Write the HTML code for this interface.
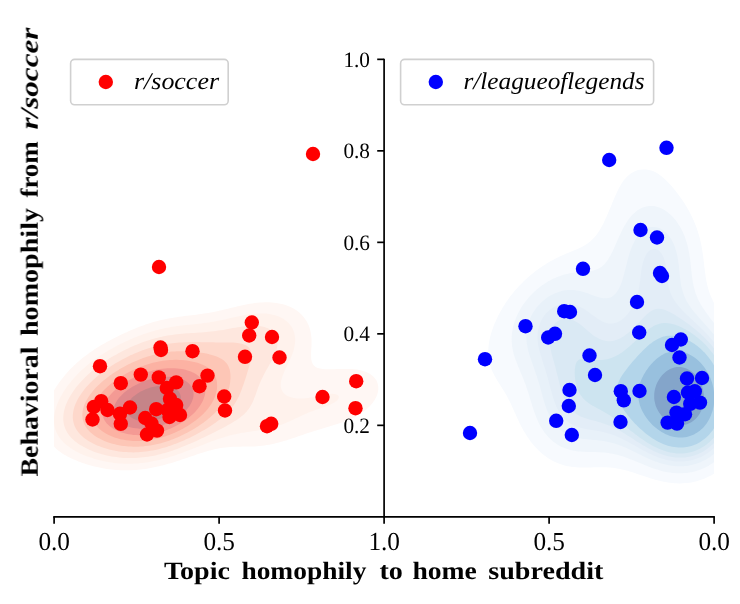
<!DOCTYPE html><html><head><meta charset="utf-8"><title>chart</title><style>html,body{margin:0;padding:0;background:#fff}svg{display:block}</style></head><body><svg width="740" height="604" viewBox="0 0 740 604"><rect width="740" height="604" fill="#fff"/><defs><clipPath id="cl"><rect x="54" y="40" width="330" height="477"/></clipPath><clipPath id="cr"><rect x="384" y="40" width="330" height="477"/></clipPath></defs>
<g clip-path="url(#cl)" fill-rule="evenodd"><path fill="#fff7f4" d="M249.8 303.8L252.3 303.4L254.7 303.1L257.1 302.8L259.5 302.6L262.0 302.4L264.4 302.3L266.8 302.3L269.2 302.3L271.7 302.5L274.1 302.7L276.5 303.0L278.9 303.4L281.4 303.9L282.0 304.1L283.8 304.6L286.2 305.3L288.6 306.2L288.7 306.3L291.1 307.3L293.3 308.5L293.5 308.6L295.9 310.1L296.8 310.6L298.3 311.8L299.6 312.8L300.8 313.9L301.9 315.0L303.2 316.5L303.8 317.2L305.4 319.4L305.6 319.7L306.8 321.6L307.9 323.8L308.0 324.1L308.9 325.9L309.6 328.1L310.2 330.3L310.5 331.5L310.7 332.5L311.1 334.7L311.3 336.9L311.5 339.1L311.5 341.2L311.5 343.4L311.5 345.6L311.4 347.8L311.2 350.0L311.1 352.2L311.1 354.4L311.1 356.5L311.2 358.7L311.6 360.9L312.3 363.1L312.9 364.3L313.7 365.3L315.3 366.7L316.6 367.5L317.7 368.0L320.2 368.6L322.6 369.0L325.0 369.2L327.4 369.3L329.9 369.3L332.3 369.3L334.7 369.2L337.2 369.1L339.6 369.0L342.0 369.0L344.4 368.9L346.9 368.9L349.3 369.0L351.7 369.1L354.1 369.3L356.6 369.5L357.2 369.6L359.0 369.9L361.4 370.5L363.8 371.2L365.8 371.8L366.3 372.0L368.7 373.2L370.1 374.0L371.1 374.7L373.0 376.2L373.5 376.7L375.0 378.4L376.0 379.7L376.5 380.6L377.4 382.8L378.0 384.9L378.3 387.1L378.3 389.3L378.0 391.5L377.5 393.7L376.7 395.9L376.0 397.5L375.7 398.1L374.5 400.2L373.5 401.6L373.0 402.4L371.2 404.6L371.1 404.8L369.2 406.8L368.7 407.3L366.9 409.0L366.3 409.5L364.2 411.2L363.8 411.4L361.4 413.1L361.1 413.4L359.0 414.7L357.5 415.5L356.6 416.1L354.1 417.4L353.4 417.7L351.7 418.5L349.3 419.6L348.6 419.9L346.9 420.6L344.4 421.6L343.0 422.1L342.0 422.5L339.6 423.3L337.2 424.1L336.5 424.3L334.7 424.8L332.3 425.6L329.9 426.3L329.4 426.5L327.4 427.0L325.0 427.8L322.6 428.5L322.0 428.7L320.2 429.2L317.7 429.9L315.3 430.7L314.8 430.8L312.9 431.4L310.5 432.2L308.0 433.0L308.0 433.0L305.6 433.8L303.2 434.7L301.6 435.2L300.8 435.5L298.3 436.3L295.9 437.2L295.3 437.4L293.5 438.0L291.1 438.8L288.7 439.6L288.6 439.6L286.2 440.4L283.8 441.1L281.6 441.8L281.4 441.8L278.9 442.5L276.5 443.1L274.1 443.7L272.9 444.0L271.7 444.2L269.2 444.7L266.8 445.1L264.4 445.5L262.0 445.8L259.5 446.1L258.5 446.1L257.1 446.3L254.7 446.4L252.3 446.5L249.8 446.6L247.4 446.6L245.0 446.6L242.6 446.6L240.1 446.7L237.7 446.7L235.3 446.7L232.9 446.8L230.4 447.0L228.0 447.2L225.6 447.4L223.2 447.7L220.7 448.1L219.3 448.3L218.3 448.5L215.9 449.0L213.5 449.6L211.0 450.2L209.7 450.5L208.6 450.8L206.2 451.5L203.8 452.2L202.3 452.7L201.3 453.0L198.9 453.8L196.5 454.6L195.6 454.9L194.1 455.4L191.6 456.3L189.2 457.1L189.2 457.1L186.8 457.9L184.4 458.7L182.8 459.3L181.9 459.5L179.5 460.4L177.1 461.1L176.1 461.4L174.7 461.9L172.2 462.7L169.8 463.4L168.9 463.6L167.4 464.1L165.0 464.8L162.5 465.4L160.7 465.8L160.1 466.0L157.7 466.6L155.3 467.1L152.8 467.6L150.6 468.0L150.4 468.0L148.0 468.5L145.6 468.9L143.1 469.2L140.7 469.5L138.3 469.7L135.9 469.9L133.4 470.1L131.5 470.2L131.0 470.2L128.6 470.3L126.2 470.3L123.7 470.3L121.3 470.2L119.8 470.2L118.9 470.1L116.5 470.0L114.0 469.8L111.6 469.6L109.2 469.3L106.7 468.9L104.3 468.6L101.9 468.1L101.4 468.0L99.5 467.6L97.0 467.1L94.6 466.6L92.2 465.9L91.8 465.8L89.8 465.3L87.3 464.6L84.9 463.8L84.5 463.6L82.5 463.0L80.1 462.1L78.4 461.4L77.6 461.1L75.2 460.1L73.2 459.3L72.8 459.1L70.4 457.9L68.7 457.1L67.9 456.7L65.5 455.3L64.8 454.9L63.1 453.9L61.3 452.7L60.7 452.2L58.3 450.5L58.2 450.4L55.8 448.4L55.7 448.3L53.5 446.1L53.4 446.1L51.5 444.0L51.0 443.3L49.8 441.8L48.5 439.9L48.3 439.6L47.1 437.4L46.1 435.3L46.1 435.2L45.2 433.0L44.6 430.8L44.1 428.7L43.8 426.5L43.7 425.6L43.6 424.3L43.5 422.1L43.6 419.9L43.7 418.6L43.8 417.7L44.0 415.5L44.4 413.4L44.9 411.2L45.5 409.0L46.1 407.3L46.3 406.8L47.0 404.6L47.9 402.4L48.5 401.0L48.8 400.2L49.8 398.1L51.0 395.9L51.0 395.9L52.1 393.7L53.4 391.5L53.4 391.5L54.7 389.3L55.8 387.5L56.1 387.1L57.5 384.9L58.2 383.9L59.0 382.8L60.7 380.6L60.7 380.6L62.3 378.4L63.1 377.4L64.1 376.2L65.5 374.5L65.9 374.0L67.9 371.8L67.9 371.8L69.9 369.6L70.4 369.1L72.0 367.5L72.8 366.7L74.2 365.3L75.2 364.4L76.6 363.1L77.6 362.2L79.1 360.9L80.1 360.1L81.7 358.7L82.5 358.1L84.5 356.5L84.9 356.2L87.3 354.4L87.4 354.4L89.8 352.6L90.4 352.2L92.2 350.9L93.6 350.0L94.6 349.3L97.0 347.8L97.0 347.8L99.5 346.3L100.6 345.6L101.9 344.8L104.3 343.4L104.4 343.4L106.7 342.1L108.3 341.2L109.2 340.7L111.6 339.4L112.4 339.1L114.0 338.2L116.5 337.0L116.7 336.9L118.9 335.8L121.1 334.7L121.3 334.6L123.7 333.4L125.9 332.5L126.2 332.4L128.6 331.3L130.8 330.3L131.0 330.2L133.4 329.2L135.9 328.2L136.1 328.1L138.3 327.2L140.7 326.3L141.8 325.9L143.1 325.4L145.6 324.6L148.0 323.8L148.1 323.8L150.4 323.0L152.8 322.3L155.3 321.6L155.4 321.6L157.7 320.9L160.1 320.3L162.5 319.8L164.4 319.4L165.0 319.2L167.4 318.7L169.8 318.3L172.2 317.9L174.7 317.5L176.6 317.2L177.1 317.1L179.5 316.8L181.9 316.4L184.4 316.1L186.8 315.8L189.2 315.5L191.6 315.3L193.7 315.0L194.1 315.0L196.5 314.7L198.9 314.3L201.3 314.0L203.8 313.6L206.2 313.3L208.6 312.9L208.9 312.8L211.0 312.4L213.5 312.0L215.9 311.5L218.3 310.9L219.7 310.6L220.7 310.4L223.2 309.8L225.6 309.3L228.0 308.7L228.9 308.5L230.4 308.1L232.9 307.5L235.3 306.9L237.7 306.3L238.0 306.3L240.1 305.8L242.6 305.2L245.0 304.7L247.4 304.3L248.4 304.1Z"/><path fill="#fff2ec" d="M245.0 315.0L247.4 314.6L249.8 314.2L252.3 313.9L254.7 313.7L257.1 313.5L259.5 313.4L262.0 313.4L264.4 313.5L266.8 313.6L269.2 313.9L271.7 314.4L274.1 314.9L274.4 315.0L276.5 315.7L278.9 316.6L280.3 317.2L281.4 317.7L283.8 319.1L284.2 319.4L286.2 320.9L287.0 321.6L288.6 323.1L289.2 323.8L291.0 325.9L291.1 326.1L292.3 328.1L293.3 330.3L293.5 330.8L294.1 332.5L294.6 334.7L295.0 336.9L295.1 339.1L295.1 341.2L295.0 343.4L294.7 345.6L294.2 347.8L293.7 350.0L293.5 350.5L293.0 352.2L292.2 354.4L291.4 356.5L291.1 357.2L290.4 358.7L289.4 360.9L288.6 362.6L288.4 363.1L287.3 365.3L286.3 367.5L286.2 367.6L285.2 369.6L284.2 371.8L283.8 372.9L283.3 374.0L282.5 376.2L281.8 378.4L281.4 379.9L281.2 380.6L280.9 382.8L280.7 384.9L280.9 387.1L281.4 389.1L281.4 389.3L282.5 391.5L283.8 393.2L284.3 393.7L286.2 395.2L287.5 395.9L288.6 396.4L291.1 397.3L293.5 397.9L294.9 398.1L295.9 398.2L298.3 398.4L300.8 398.5L303.2 398.4L305.6 398.3L307.2 398.1L308.0 398.0L310.5 397.6L312.9 397.2L315.3 396.7L317.7 396.1L318.8 395.9L320.2 395.6L322.6 395.1L325.0 394.6L327.4 394.2L329.9 393.9L332.3 393.7L334.7 393.9L337.2 394.7L338.7 395.9L338.8 398.1L337.4 400.2L337.2 400.4L334.7 402.3L334.6 402.4L332.3 403.6L330.4 404.6L329.9 404.8L327.4 405.8L325.0 406.8L324.9 406.8L322.6 407.5L320.2 408.4L318.5 409.0L317.7 409.2L315.3 410.0L312.9 410.9L312.3 411.2L310.5 411.8L308.0 412.8L306.9 413.4L305.6 413.8L303.2 414.9L301.9 415.5L300.8 416.0L298.3 417.2L297.3 417.7L295.9 418.3L293.5 419.5L292.6 419.9L291.1 420.6L288.6 421.7L287.8 422.1L286.2 422.8L283.8 423.8L282.6 424.3L281.4 424.7L278.9 425.6L276.5 426.5L276.5 426.5L274.1 427.2L271.7 427.9L269.2 428.5L268.6 428.7L266.8 429.0L264.4 429.5L262.0 429.9L259.5 430.3L257.1 430.7L256.1 430.8L254.7 431.0L252.3 431.3L249.8 431.7L247.4 432.0L245.0 432.4L242.6 432.8L241.0 433.0L240.1 433.2L237.7 433.7L235.3 434.2L232.9 434.7L231.0 435.2L230.4 435.3L228.0 436.0L225.6 436.7L223.3 437.4L223.2 437.4L220.7 438.2L218.3 439.0L216.7 439.6L215.9 439.9L213.5 440.8L211.0 441.6L210.7 441.8L208.6 442.6L206.2 443.5L205.0 444.0L203.8 444.5L201.3 445.4L199.5 446.1L198.9 446.4L196.5 447.3L194.1 448.3L193.9 448.3L191.6 449.3L189.2 450.2L188.3 450.5L186.8 451.1L184.4 452.0L182.5 452.7L181.9 452.9L179.5 453.8L177.1 454.6L176.4 454.9L174.7 455.5L172.2 456.3L169.8 457.0L169.6 457.1L167.4 457.8L165.0 458.5L162.5 459.1L161.9 459.3L160.1 459.7L157.7 460.3L155.3 460.8L152.8 461.3L152.1 461.4L150.4 461.8L148.0 462.2L145.6 462.6L143.1 462.9L140.7 463.1L138.3 463.4L135.9 463.5L134.0 463.6L133.4 463.7L131.0 463.7L128.6 463.8L126.2 463.8L123.7 463.7L122.5 463.6L121.3 463.6L118.9 463.4L116.5 463.2L114.0 462.9L111.6 462.6L109.2 462.2L106.7 461.8L104.9 461.4L104.3 461.3L101.9 460.8L99.5 460.2L97.0 459.6L95.9 459.3L94.6 458.9L92.2 458.1L89.8 457.3L89.1 457.1L87.3 456.5L84.9 455.5L83.4 454.9L82.5 454.5L80.1 453.4L78.7 452.7L77.6 452.2L75.2 450.9L74.6 450.5L72.8 449.5L71.0 448.3L70.4 447.9L67.9 446.1L67.9 446.1L65.5 444.2L65.3 444.0L63.1 441.9L63.0 441.8L61.0 439.6L60.7 439.1L59.4 437.4L58.2 435.6L58.0 435.2L56.8 433.0L55.9 430.8L55.8 430.6L55.1 428.7L54.6 426.5L54.2 424.3L54.0 422.1L53.9 419.9L54.0 417.7L54.2 415.5L54.6 413.4L55.0 411.2L55.6 409.0L55.8 408.3L56.3 406.8L57.1 404.6L58.0 402.4L58.2 401.8L58.9 400.2L60.0 398.1L60.7 396.8L61.2 395.9L62.4 393.7L63.1 392.6L63.8 391.5L65.2 389.3L65.5 388.9L66.7 387.1L67.9 385.5L68.3 384.9L70.0 382.8L70.4 382.4L71.8 380.6L72.8 379.4L73.7 378.4L75.2 376.7L75.7 376.2L77.6 374.1L77.8 374.0L79.9 371.8L80.1 371.7L82.2 369.6L82.5 369.4L84.7 367.5L84.9 367.2L87.2 365.3L87.3 365.2L89.8 363.2L89.9 363.1L92.2 361.3L92.7 360.9L94.6 359.5L95.7 358.7L97.0 357.8L98.9 356.5L99.5 356.1L101.9 354.6L102.2 354.4L104.3 353.0L105.7 352.2L106.7 351.5L109.2 350.1L109.4 350.0L111.6 348.7L113.3 347.8L114.0 347.4L116.5 346.1L117.4 345.6L118.9 344.8L121.3 343.6L121.7 343.4L123.7 342.4L126.2 341.3L126.3 341.2L128.6 340.2L131.0 339.1L131.2 339.1L133.4 338.1L135.9 337.1L136.4 336.9L138.3 336.1L140.7 335.2L142.1 334.7L143.1 334.3L145.6 333.5L148.0 332.7L148.5 332.5L150.4 331.9L152.8 331.2L155.3 330.5L156.0 330.3L157.7 329.9L160.1 329.2L162.5 328.7L165.0 328.2L165.3 328.1L167.4 327.7L169.8 327.3L172.2 326.8L174.7 326.5L177.1 326.1L178.7 325.9L179.5 325.8L181.9 325.5L184.4 325.2L186.8 325.0L189.2 324.7L191.6 324.5L194.1 324.2L196.5 324.0L198.7 323.8L198.9 323.7L201.3 323.4L203.8 323.1L206.2 322.8L208.6 322.5L211.0 322.1L213.5 321.7L214.2 321.6L215.9 321.3L218.3 320.8L220.7 320.3L223.2 319.8L225.0 319.4L225.6 319.2L228.0 318.7L230.4 318.1L232.9 317.6L234.5 317.2L235.3 317.0L237.7 316.5L240.1 316.0L242.6 315.5L245.0 315.0Z"/><path fill="#fee7de" d="M247.4 325.9L249.8 325.8L252.3 325.6L254.7 325.6L257.1 325.8L259.0 325.9L259.5 326.0L262.0 326.4L264.4 327.0L266.8 327.9L267.4 328.1L269.2 329.1L271.2 330.3L271.7 330.7L273.6 332.5L274.1 333.0L275.3 334.7L276.4 336.9L276.5 337.2L277.1 339.1L277.5 341.2L277.5 343.4L277.4 345.6L277.0 347.8L276.5 349.8L276.5 350.0L275.7 352.2L274.9 354.4L274.1 356.0L273.9 356.5L272.8 358.7L271.7 360.8L271.6 360.9L270.4 363.1L269.2 365.1L269.1 365.3L267.9 367.5L266.8 369.3L266.6 369.6L265.4 371.8L264.4 373.7L264.2 374.0L263.1 376.2L262.0 378.4L262.0 378.5L261.0 380.6L260.1 382.8L259.5 384.1L259.2 384.9L258.3 387.1L257.5 389.3L257.1 390.4L256.7 391.5L256.0 393.7L255.2 395.9L254.7 397.1L254.3 398.1L253.5 400.2L252.5 402.4L252.3 402.9L251.4 404.6L250.2 406.8L249.8 407.3L248.7 409.0L247.4 410.6L247.0 411.2L245.0 413.3L244.9 413.4L242.6 415.5L242.5 415.5L240.1 417.4L239.8 417.7L237.7 419.2L236.7 419.9L235.3 420.8L233.2 422.1L232.9 422.3L230.4 423.7L229.5 424.3L228.0 425.1L225.6 426.4L225.5 426.5L223.2 427.7L221.4 428.7L220.7 429.0L218.3 430.3L217.2 430.8L215.9 431.5L213.5 432.7L212.8 433.0L211.0 433.9L208.6 435.1L208.4 435.2L206.2 436.3L203.9 437.4L203.8 437.5L201.3 438.6L199.3 439.6L198.9 439.7L196.5 440.9L194.5 441.8L194.1 442.0L191.6 443.1L189.5 444.0L189.2 444.1L186.8 445.1L184.4 446.1L184.3 446.1L181.9 447.1L179.5 448.0L178.8 448.3L177.1 449.0L174.7 449.8L172.7 450.5L172.2 450.7L169.8 451.5L167.4 452.2L165.7 452.7L165.0 452.9L162.5 453.6L160.1 454.2L157.7 454.8L157.4 454.9L155.3 455.4L152.8 455.9L150.4 456.3L148.0 456.7L145.6 457.0L145.3 457.1L143.1 457.3L140.7 457.6L138.3 457.8L135.9 457.9L133.4 458.0L131.0 458.1L128.6 458.1L126.2 458.0L123.7 457.9L121.3 457.7L118.9 457.4L116.5 457.1L115.9 457.1L114.0 456.8L111.6 456.4L109.2 455.9L106.7 455.4L104.5 454.9L104.3 454.8L101.9 454.2L99.5 453.5L97.0 452.7L97.0 452.7L94.6 451.9L92.2 450.9L91.2 450.5L89.8 449.9L87.3 448.8L86.3 448.3L84.9 447.6L82.5 446.3L82.2 446.1L80.1 444.9L78.7 444.0L77.6 443.2L75.7 441.8L75.2 441.4L73.1 439.6L72.8 439.3L70.9 437.4L70.4 436.8L69.1 435.2L67.9 433.6L67.5 433.0L66.3 430.8L65.5 429.2L65.3 428.7L64.5 426.5L63.9 424.3L63.5 422.1L63.3 419.9L63.3 417.7L63.4 415.5L63.6 413.4L64.0 411.2L64.6 409.0L65.2 406.8L65.5 406.1L66.0 404.6L66.9 402.4L67.9 400.3L68.0 400.2L69.1 398.1L70.3 395.9L70.4 395.8L71.7 393.7L72.8 392.0L73.1 391.5L74.7 389.3L75.2 388.6L76.3 387.1L77.6 385.5L78.1 384.9L80.0 382.8L80.1 382.7L82.0 380.6L82.5 380.0L84.1 378.4L84.9 377.5L86.3 376.2L87.3 375.2L88.6 374.0L89.8 373.0L91.1 371.8L92.2 370.9L93.7 369.6L94.6 368.9L96.4 367.5L97.0 367.0L99.3 365.3L99.5 365.2L101.9 363.4L102.4 363.1L104.3 361.8L105.6 360.9L106.7 360.2L109.0 358.7L109.2 358.6L111.6 357.1L112.6 356.5L114.0 355.7L116.5 354.4L116.5 354.4L118.9 353.0L120.5 352.2L121.3 351.7L123.7 350.5L124.8 350.0L126.2 349.3L128.6 348.2L129.4 347.8L131.0 347.0L133.4 346.0L134.3 345.6L135.9 344.9L138.3 344.0L139.7 343.4L140.7 343.0L143.1 342.1L145.6 341.3L145.7 341.2L148.0 340.5L150.4 339.7L152.7 339.1L152.8 339.0L155.3 338.3L157.7 337.7L160.1 337.1L161.3 336.9L162.5 336.6L165.0 336.1L167.4 335.6L169.8 335.2L172.2 334.9L173.6 334.7L174.7 334.5L177.1 334.2L179.5 334.0L181.9 333.7L184.4 333.5L186.8 333.3L189.2 333.2L191.6 333.0L194.1 332.9L196.5 332.7L198.9 332.5L199.6 332.5L201.3 332.4L203.8 332.2L206.2 332.0L208.6 331.8L211.0 331.5L213.5 331.2L215.9 330.9L218.3 330.6L220.3 330.3L220.7 330.2L223.2 329.9L225.6 329.4L228.0 329.0L230.4 328.6L232.9 328.1L232.9 328.1L235.3 327.7L237.7 327.3L240.1 326.9L242.6 326.5L245.0 326.2L247.4 325.9Z"/><path fill="#fed8cb" d="M172.2 343.2L174.7 342.9L177.1 342.7L179.5 342.5L181.9 342.4L184.4 342.3L186.8 342.2L189.2 342.1L191.6 342.1L194.1 342.1L196.5 342.1L198.9 342.1L201.3 342.2L203.8 342.2L206.2 342.2L208.6 342.3L211.0 342.3L213.5 342.3L215.9 342.4L218.3 342.4L220.7 342.4L223.2 342.4L225.6 342.4L228.0 342.5L230.4 342.5L232.9 342.6L235.3 342.8L237.7 343.0L240.1 343.4L240.2 343.4L242.6 344.0L245.0 344.9L246.4 345.6L247.4 346.3L249.1 347.8L249.8 348.9L250.4 350.0L251.1 352.2L251.3 354.4L251.3 356.5L251.0 358.7L250.6 360.9L250.1 363.1L249.8 364.0L249.5 365.3L248.9 367.5L248.2 369.6L247.6 371.8L247.4 372.2L246.9 374.0L246.2 376.2L245.5 378.4L245.0 379.9L244.8 380.6L244.1 382.8L243.3 384.9L242.6 387.1L242.5 387.1L241.8 389.3L240.9 391.5L240.1 393.4L240.0 393.7L239.1 395.9L238.0 398.1L237.7 398.6L236.8 400.2L235.5 402.4L235.3 402.8L234.2 404.6L232.9 406.4L232.6 406.8L230.8 409.0L230.4 409.4L228.9 411.2L228.0 412.1L226.8 413.4L225.6 414.5L224.5 415.5L223.2 416.7L222.0 417.7L220.7 418.7L219.2 419.9L218.3 420.6L216.3 422.1L215.9 422.4L213.5 424.1L213.1 424.3L211.0 425.7L209.8 426.5L208.6 427.2L206.3 428.7L206.2 428.7L203.8 430.2L202.6 430.8L201.3 431.6L198.9 432.9L198.7 433.0L196.5 434.2L194.6 435.2L194.1 435.5L191.6 436.7L190.2 437.4L189.2 437.9L186.8 439.1L185.6 439.6L184.4 440.2L181.9 441.2L180.6 441.8L179.5 442.2L177.1 443.2L175.2 444.0L174.7 444.1L172.2 445.0L169.8 445.9L169.0 446.1L167.4 446.7L165.0 447.4L162.5 448.1L161.7 448.3L160.1 448.8L157.7 449.4L155.3 449.9L152.8 450.4L152.1 450.5L150.4 450.8L148.0 451.2L145.6 451.6L143.1 451.8L140.7 452.0L138.3 452.2L135.9 452.3L133.4 452.4L131.0 452.3L128.6 452.3L126.2 452.1L123.7 452.0L121.3 451.7L118.9 451.4L116.5 451.0L114.0 450.5L113.9 450.5L111.6 450.0L109.2 449.4L106.7 448.8L105.2 448.3L104.3 448.1L101.9 447.2L99.5 446.3L98.9 446.1L97.0 445.4L94.6 444.3L94.0 444.0L92.2 443.1L89.9 441.8L89.8 441.7L87.3 440.2L86.4 439.6L84.9 438.5L83.5 437.4L82.5 436.5L81.1 435.2L80.1 434.2L79.0 433.0L77.6 431.3L77.3 430.8L75.9 428.7L75.2 427.3L74.8 426.5L74.0 424.3L73.4 422.1L73.0 419.9L72.8 417.7L72.8 417.7L72.8 415.5L72.8 415.5L73.0 413.4L73.3 411.2L73.8 409.0L74.4 406.8L75.2 404.7L75.2 404.6L76.2 402.4L77.2 400.2L77.6 399.5L78.4 398.1L79.7 395.9L80.1 395.4L81.2 393.7L82.5 391.9L82.8 391.5L84.5 389.3L84.9 388.8L86.3 387.1L87.3 385.9L88.3 384.9L89.8 383.3L90.3 382.8L92.2 380.9L92.6 380.6L94.6 378.7L94.9 378.4L97.0 376.5L97.4 376.2L99.5 374.5L100.1 374.0L101.9 372.6L102.9 371.8L104.3 370.8L105.9 369.6L106.7 369.0L109.0 367.5L109.2 367.4L111.6 365.8L112.4 365.3L114.0 364.2L116.0 363.1L116.5 362.8L118.9 361.4L119.7 360.9L121.3 360.0L123.7 358.7L123.8 358.7L126.2 357.5L128.1 356.5L128.6 356.3L131.0 355.1L132.8 354.4L133.4 354.1L135.9 353.0L137.9 352.2L138.3 352.0L140.7 351.0L143.1 350.1L143.6 350.0L145.6 349.3L148.0 348.5L150.2 347.8L150.4 347.7L152.8 347.0L155.3 346.4L157.7 345.8L158.3 345.6L160.1 345.2L162.5 344.7L165.0 344.2L167.4 343.8L169.8 343.5L170.4 343.4Z"/><path fill="#fdc6b6" d="M167.4 352.1L169.8 351.8L172.2 351.6L174.7 351.4L177.1 351.3L179.5 351.2L181.9 351.2L184.4 351.2L186.8 351.3L189.2 351.4L191.6 351.6L194.1 351.8L196.5 352.1L197.4 352.2L198.9 352.4L201.3 352.7L203.8 353.1L206.2 353.6L208.6 354.1L209.7 354.4L211.0 354.7L213.5 355.4L215.9 356.2L216.7 356.5L218.3 357.2L220.7 358.4L221.3 358.7L223.2 360.0L224.3 360.9L225.6 362.2L226.4 363.1L227.9 365.3L228.0 365.5L228.9 367.5L229.7 369.6L230.1 371.8L230.4 374.0L230.4 375.0L230.5 376.2L230.5 378.4L230.4 378.9L230.3 380.6L230.1 382.8L229.7 384.9L229.3 387.1L228.7 389.3L228.1 391.5L228.0 391.6L227.3 393.7L226.4 395.9L225.6 397.7L225.4 398.1L224.3 400.2L223.2 402.2L223.0 402.4L221.7 404.6L220.7 405.9L220.1 406.8L218.4 409.0L218.3 409.0L216.5 411.2L215.9 411.8L214.4 413.4L213.5 414.3L212.1 415.5L211.0 416.5L209.7 417.7L208.6 418.6L207.0 419.9L206.2 420.6L204.2 422.1L203.8 422.4L201.3 424.1L201.1 424.3L198.9 425.8L197.9 426.5L196.5 427.3L194.3 428.7L194.1 428.8L191.6 430.3L190.6 430.8L189.2 431.6L186.8 432.9L186.5 433.0L184.4 434.1L182.1 435.2L181.9 435.3L179.5 436.4L177.3 437.4L177.1 437.5L174.7 438.5L172.2 439.5L171.9 439.6L169.8 440.4L167.4 441.2L165.6 441.8L165.0 442.0L162.5 442.7L160.1 443.4L157.7 444.0L157.7 444.0L155.3 444.5L152.8 445.0L150.4 445.4L148.0 445.8L145.6 446.1L145.3 446.1L143.1 446.4L140.7 446.6L138.3 446.7L135.9 446.7L133.4 446.7L131.0 446.6L128.6 446.5L126.2 446.3L124.9 446.1L123.7 446.0L121.3 445.7L118.9 445.2L116.5 444.7L114.0 444.1L113.4 444.0L111.6 443.5L109.2 442.7L106.7 441.9L106.5 441.8L104.3 440.9L101.9 439.8L101.4 439.6L99.5 438.6L97.3 437.4L97.0 437.2L94.6 435.7L94.0 435.2L92.2 433.8L91.2 433.0L89.8 431.7L88.9 430.8L87.3 429.0L87.1 428.7L85.6 426.5L84.9 425.3L84.4 424.3L83.5 422.1L82.9 419.9L82.5 417.7L82.5 417.7L82.3 415.5L82.4 413.4L82.5 412.5L82.6 411.2L83.1 409.0L83.7 406.8L84.5 404.6L84.9 403.6L85.4 402.4L86.5 400.2L87.3 398.9L87.8 398.1L89.2 395.9L89.8 395.1L90.8 393.7L92.2 391.9L92.5 391.5L94.4 389.3L94.6 389.1L96.4 387.1L97.0 386.5L98.6 384.9L99.5 384.2L101.0 382.8L101.9 382.0L103.5 380.6L104.3 379.9L106.2 378.4L106.7 378.0L109.1 376.2L109.2 376.1L111.6 374.4L112.1 374.0L114.0 372.7L115.4 371.8L116.5 371.2L118.9 369.7L118.9 369.6L121.3 368.2L122.7 367.5L123.7 366.9L126.2 365.6L126.7 365.3L128.6 364.3L131.0 363.2L131.1 363.1L133.4 362.0L135.9 361.0L136.0 360.9L138.3 359.9L140.7 359.0L141.4 358.7L143.1 358.1L145.6 357.2L147.6 356.5L148.0 356.4L150.4 355.7L152.8 355.0L155.3 354.4L155.3 354.4L157.7 353.8L160.1 353.3L162.5 352.8L165.0 352.4L166.7 352.2Z"/><path fill="#fcb2a3" d="M162.5 360.8L165.0 360.5L167.4 360.2L169.8 360.0L172.2 359.9L174.7 359.8L177.1 359.8L179.5 359.9L181.9 360.0L184.4 360.3L186.8 360.5L189.2 360.9L189.2 360.9L191.6 361.4L194.1 361.9L196.5 362.5L198.3 363.1L198.9 363.3L201.3 364.2L203.8 365.3L203.8 365.3L206.2 366.6L207.6 367.5L208.6 368.2L210.4 369.6L211.0 370.3L212.5 371.8L213.5 373.1L214.1 374.0L215.2 376.2L215.9 377.9L216.1 378.4L216.7 380.6L217.0 382.8L217.1 384.9L217.1 387.1L216.9 389.3L216.5 391.5L215.9 393.7L215.9 393.9L215.3 395.9L214.4 398.1L213.5 400.1L213.4 400.2L212.2 402.4L211.0 404.4L210.9 404.6L209.4 406.8L208.6 407.8L207.7 409.0L206.2 410.7L205.8 411.2L203.8 413.3L203.8 413.4L201.5 415.5L201.3 415.7L199.0 417.7L198.9 417.8L196.5 419.8L196.3 419.9L194.1 421.6L193.4 422.1L191.6 423.3L190.2 424.3L189.2 424.9L186.8 426.4L186.7 426.5L184.4 427.8L182.9 428.7L181.9 429.2L179.5 430.4L178.7 430.8L177.1 431.6L174.7 432.7L173.9 433.0L172.2 433.8L169.8 434.7L168.5 435.2L167.4 435.6L165.0 436.5L162.5 437.2L161.9 437.4L160.1 437.9L157.7 438.5L155.3 439.1L152.8 439.6L152.8 439.6L150.4 440.0L148.0 440.4L145.6 440.6L143.1 440.9L140.7 441.0L138.3 441.1L135.9 441.1L133.4 441.0L131.0 440.8L128.6 440.6L126.2 440.3L123.7 439.8L122.4 439.6L121.3 439.4L118.9 438.8L116.5 438.1L114.4 437.4L114.0 437.3L111.6 436.3L109.2 435.3L109.1 435.2L106.7 434.0L105.0 433.0L104.3 432.6L101.9 431.0L101.7 430.8L99.5 429.0L99.1 428.7L97.1 426.5L97.0 426.5L95.4 424.3L94.6 423.0L94.1 422.1L93.2 419.9L92.6 417.7L92.2 415.5L92.2 414.8L92.1 413.4L92.2 412.4L92.3 411.2L92.6 409.0L93.2 406.8L94.0 404.6L94.6 403.2L95.0 402.4L96.1 400.2L97.0 398.8L97.5 398.1L99.0 395.9L99.5 395.3L100.8 393.7L101.9 392.4L102.7 391.5L104.3 389.8L104.8 389.3L106.7 387.4L107.1 387.1L109.2 385.3L109.5 384.9L111.6 383.3L112.2 382.8L114.0 381.4L115.2 380.6L116.5 379.7L118.3 378.4L118.9 378.0L121.3 376.5L121.7 376.2L123.7 375.0L125.4 374.0L126.2 373.6L128.6 372.3L129.5 371.8L131.0 371.1L133.4 369.9L134.0 369.6L135.9 368.8L138.3 367.8L139.0 367.5L140.7 366.8L143.1 365.9L144.8 365.3L145.6 365.0L148.0 364.2L150.4 363.5L151.9 363.1L152.8 362.8L155.3 362.2L157.7 361.7L160.1 361.2L162.1 360.9Z"/><path fill="#f49a94" d="M157.7 369.5L160.1 369.1L162.5 368.8L165.0 368.5L167.4 368.3L169.8 368.2L172.2 368.2L174.7 368.3L177.1 368.4L179.5 368.7L181.9 369.1L184.4 369.6L184.7 369.6L186.8 370.2L189.2 370.9L191.5 371.8L191.6 371.9L194.1 373.0L195.8 374.0L196.5 374.5L198.8 376.2L198.9 376.3L201.0 378.4L201.3 378.8L202.6 380.6L203.8 382.7L203.8 382.8L204.6 384.9L205.1 387.1L205.3 389.3L205.3 391.5L205.1 393.7L204.6 395.9L203.9 398.1L203.8 398.5L203.1 400.2L202.0 402.4L201.3 403.6L200.8 404.6L199.3 406.8L198.9 407.3L197.6 409.0L196.5 410.3L195.8 411.2L194.1 412.9L193.6 413.4L191.6 415.2L191.3 415.5L189.2 417.3L188.7 417.7L186.8 419.2L185.8 419.9L184.4 420.9L182.6 422.1L181.9 422.5L179.5 424.0L179.0 424.3L177.1 425.3L174.9 426.5L174.7 426.6L172.2 427.7L170.2 428.7L169.8 428.8L167.4 429.8L165.0 430.7L164.5 430.8L162.5 431.5L160.1 432.2L157.7 432.9L157.1 433.0L155.3 433.5L152.8 434.0L150.4 434.4L148.0 434.7L145.6 435.0L143.1 435.1L140.7 435.2L138.3 435.2L135.9 435.1L133.4 434.9L131.0 434.6L128.6 434.2L126.2 433.7L123.7 433.1L123.4 433.0L121.3 432.4L118.9 431.5L117.4 430.8L116.5 430.4L114.0 429.2L113.2 428.7L111.6 427.6L110.0 426.5L109.2 425.8L107.6 424.3L106.7 423.4L105.7 422.1L104.3 419.9L104.3 419.9L103.3 417.7L102.7 415.5L102.4 413.4L102.4 411.2L102.7 409.0L103.2 406.8L104.0 404.6L104.3 403.8L105.0 402.4L106.2 400.2L106.7 399.4L107.7 398.1L109.2 396.1L109.4 395.9L111.3 393.7L111.6 393.4L113.4 391.5L114.0 391.0L115.8 389.3L116.5 388.8L118.5 387.1L118.9 386.8L121.3 385.0L121.4 384.9L123.7 383.4L124.7 382.8L126.2 381.8L128.2 380.6L128.6 380.4L131.0 379.0L132.2 378.4L133.4 377.8L135.9 376.6L136.8 376.2L138.3 375.5L140.7 374.5L142.0 374.0L143.1 373.6L145.6 372.7L148.0 371.9L148.3 371.8L150.4 371.2L152.8 370.6L155.3 370.0L157.0 369.6Z"/><path fill="#df8a8d" d="M155.3 378.0L157.7 377.5L160.1 377.2L162.5 376.9L165.0 376.8L167.4 376.7L169.8 376.8L172.2 377.0L174.7 377.3L177.1 377.8L179.5 378.4L179.5 378.4L181.9 379.2L184.4 380.3L184.8 380.6L186.8 381.8L188.0 382.8L189.2 383.8L190.2 384.9L191.6 386.9L191.8 387.1L192.8 389.3L193.3 391.5L193.6 393.7L193.5 395.9L193.1 398.1L192.4 400.2L191.6 402.2L191.5 402.4L190.4 404.6L189.2 406.4L188.9 406.8L187.2 409.0L186.8 409.5L185.3 411.2L184.4 412.1L183.0 413.4L181.9 414.3L180.4 415.5L179.5 416.2L177.4 417.7L177.1 417.9L174.7 419.5L173.9 419.9L172.2 420.9L169.9 422.1L169.8 422.2L167.4 423.3L165.0 424.3L165.0 424.3L162.5 425.2L160.1 426.0L158.5 426.5L157.7 426.7L155.3 427.3L152.8 427.8L150.4 428.2L148.0 428.5L145.8 428.7L145.6 428.7L143.1 428.8L140.7 428.7L139.2 428.7L138.3 428.6L135.9 428.3L133.4 427.9L131.0 427.4L128.6 426.7L127.8 426.5L126.2 425.8L123.7 424.7L122.9 424.3L121.3 423.3L119.6 422.1L118.9 421.5L117.3 419.9L116.5 418.9L115.6 417.7L114.5 415.5L114.0 414.0L113.8 413.4L113.6 411.2L113.7 409.0L114.0 407.3L114.1 406.8L114.9 404.6L115.9 402.4L116.5 401.5L117.2 400.2L118.9 398.1L118.9 398.1L120.8 395.9L121.3 395.4L123.1 393.7L123.7 393.1L125.6 391.5L126.2 391.1L128.6 389.3L128.6 389.3L131.0 387.7L131.9 387.1L133.4 386.2L135.8 384.9L135.9 384.9L138.3 383.7L140.3 382.8L140.7 382.6L143.1 381.6L145.6 380.7L145.8 380.6L148.0 379.9L150.4 379.1L152.8 378.5L153.3 378.4Z"/><path fill="#c58488" d="M152.8 387.0L155.3 386.5L157.7 386.1L160.1 385.9L162.5 385.8L165.0 385.8L167.4 386.1L169.8 386.5L171.9 387.1L172.2 387.2L174.7 388.3L176.3 389.3L177.1 389.9L178.7 391.5L179.5 392.7L180.0 393.7L180.7 395.9L180.9 398.1L180.6 400.2L179.9 402.4L179.5 403.4L178.9 404.6L177.4 406.8L177.1 407.2L175.6 409.0L174.7 409.9L173.3 411.2L172.2 412.1L170.5 413.4L169.8 413.9L167.4 415.4L167.1 415.5L165.0 416.7L162.7 417.7L162.5 417.8L160.1 418.7L157.7 419.5L156.3 419.9L155.3 420.2L152.8 420.7L150.4 421.0L148.0 421.2L145.6 421.3L143.1 421.2L140.7 420.9L138.3 420.5L136.2 419.9L135.9 419.8L133.4 418.8L131.6 417.7L131.0 417.3L128.9 415.5L128.6 415.1L127.4 413.4L126.5 411.2L126.3 409.0L126.5 406.8L127.2 404.6L128.3 402.4L128.6 402.0L129.8 400.2L131.0 398.9L131.8 398.1L133.4 396.6L134.2 395.9L135.9 394.7L137.2 393.7L138.3 393.0L140.7 391.6L140.9 391.5L143.1 390.4L145.6 389.3L145.6 389.3L148.0 388.4L150.4 387.6L152.3 387.1Z"/></g>
<g clip-path="url(#cr)" fill-rule="evenodd"><path fill="#f7fafe" d="M636.0 170.8L638.1 170.1L640.2 169.7L642.4 169.4L644.5 169.4L646.6 169.5L648.8 169.9L650.9 170.4L653.0 171.1L654.2 171.7L655.1 172.1L657.3 173.3L658.8 174.3L659.4 174.7L661.5 176.2L662.2 176.9L663.6 178.0L665.1 179.4L665.8 180.0L667.8 182.0L667.9 182.1L670.0 184.4L670.2 184.6L672.2 186.8L672.5 187.2L674.3 189.3L674.6 189.7L676.4 192.0L676.6 192.3L678.5 194.8L678.6 194.9L680.5 197.4L680.7 197.7L682.2 200.0L682.8 200.8L683.9 202.6L684.9 204.1L685.6 205.2L687.0 207.6L687.1 207.7L688.6 210.3L689.2 211.3L690.0 212.9L691.3 215.4L691.3 215.5L692.5 218.0L693.4 220.0L693.7 220.6L694.8 223.2L695.5 225.1L695.8 225.8L696.8 228.3L697.6 230.9L697.7 231.1L698.4 233.5L699.2 236.0L699.8 238.4L699.9 238.6L700.5 241.2L701.0 243.8L701.6 246.3L701.9 248.5L702.0 248.9L702.4 251.5L702.8 254.1L703.2 256.6L703.5 259.2L703.8 261.8L704.1 264.0L704.1 264.4L704.4 266.9L704.7 269.5L705.0 272.1L705.4 274.6L705.7 277.2L706.2 279.8L706.2 279.9L706.7 282.4L707.2 284.9L707.9 287.5L708.3 289.0L708.6 290.1L709.5 292.7L710.4 295.2L710.4 295.3L711.5 297.8L712.6 300.1L712.7 300.4L714.0 303.0L714.7 304.3L715.4 305.5L716.8 308.0L716.9 308.1L718.4 310.7L718.9 311.5L720.1 313.2L721.1 314.8L721.7 315.8L723.2 318.1L723.4 318.4L725.1 321.0L725.3 321.3L726.8 323.5L727.5 324.5L728.5 326.1L729.6 327.8L730.2 328.7L731.7 331.1L731.8 331.3L733.4 333.8L733.8 334.6L734.9 336.4L736.0 338.3L736.4 339.0L737.8 341.6L738.1 342.2L739.1 344.1L740.2 346.3L740.4 346.7L741.6 349.3L742.3 350.9L742.8 351.9L743.9 354.4L744.5 356.0L744.9 357.0L745.8 359.6L746.6 361.8L746.7 362.1L747.6 364.7L748.3 367.3L748.7 368.8L749.0 369.9L749.7 372.4L750.2 375.0L750.7 377.6L750.9 378.3L751.2 380.2L751.6 382.7L751.9 385.3L752.2 387.9L752.4 390.5L752.5 393.0L752.6 395.6L752.6 398.2L752.6 400.7L752.5 403.3L752.3 405.9L752.1 408.5L751.8 411.0L751.4 413.6L751.0 416.2L750.9 416.9L750.5 418.8L749.9 421.3L749.3 423.9L748.7 425.8L748.6 426.5L747.8 429.1L746.9 431.6L746.6 432.4L745.9 434.2L744.9 436.8L744.5 437.7L743.7 439.3L742.5 441.9L742.3 442.2L741.1 444.5L740.2 446.1L739.7 447.1L738.1 449.6L738.1 449.6L736.4 452.2L736.0 452.8L734.5 454.8L733.8 455.7L732.5 457.4L731.7 458.3L730.3 459.9L729.6 460.8L727.9 462.5L727.5 463.0L725.3 465.0L725.3 465.1L723.2 467.0L722.4 467.7L721.1 468.7L719.1 470.2L718.9 470.3L716.8 471.9L715.4 472.8L714.7 473.3L712.6 474.5L711.1 475.4L710.4 475.7L708.3 476.8L706.2 477.8L705.8 477.9L704.1 478.7L701.9 479.5L699.8 480.2L698.8 480.5L697.7 480.9L695.5 481.5L693.4 481.9L691.3 482.4L689.2 482.7L687.0 482.9L685.4 483.1L684.9 483.1L682.8 483.3L680.7 483.4L678.5 483.4L676.4 483.3L674.3 483.2L673.4 483.1L672.2 483.0L670.0 482.8L667.9 482.5L665.8 482.1L663.6 481.7L661.5 481.3L659.4 480.8L658.4 480.5L657.3 480.2L655.1 479.7L653.0 479.1L650.9 478.4L649.5 477.9L648.8 477.7L646.6 477.0L644.5 476.3L642.4 475.6L641.7 475.4L640.2 474.9L638.1 474.2L636.0 473.4L634.1 472.8L633.9 472.7L631.7 472.1L629.6 471.4L627.5 470.8L625.5 470.2L625.4 470.2L623.2 469.7L621.1 469.2L619.0 468.7L616.8 468.4L614.7 468.0L612.6 467.7L611.8 467.7L610.5 467.5L608.3 467.4L606.2 467.2L604.1 467.2L602.0 467.2L599.8 467.2L597.7 467.2L595.6 467.2L593.4 467.3L591.3 467.4L589.2 467.4L587.1 467.5L584.9 467.5L582.8 467.5L580.7 467.5L578.6 467.4L576.4 467.3L574.3 467.1L572.2 466.9L570.0 466.6L567.9 466.2L565.8 465.7L563.7 465.2L563.3 465.1L561.5 464.6L559.4 463.8L557.3 463.0L556.2 462.5L555.2 462.1L553.0 461.0L551.1 459.9L550.9 459.8L548.8 458.6L547.0 457.4L546.6 457.1L544.5 455.6L543.5 454.8L542.4 453.9L540.5 452.2L540.3 452.0L538.1 450.0L537.7 449.6L536.0 447.8L535.3 447.1L533.9 445.5L533.1 444.5L531.8 442.9L531.0 441.9L529.6 440.1L529.1 439.3L527.5 437.0L527.4 436.8L525.7 434.2L525.4 433.6L524.1 431.6L523.2 430.0L522.7 429.1L521.3 426.5L521.1 426.0L520.0 423.9L519.0 421.7L518.8 421.3L517.6 418.8L516.9 417.2L516.4 416.2L515.3 413.6L514.7 412.4L514.1 411.0L513.0 408.5L512.6 407.7L511.8 405.9L510.6 403.3L510.5 403.1L509.3 400.7L508.4 398.9L508.0 398.2L506.6 395.6L506.2 394.9L505.1 393.0L504.1 391.3L503.6 390.5L502.0 387.9L502.0 387.9L500.3 385.3L499.8 384.5L498.7 382.7L497.7 381.2L497.1 380.2L495.6 377.6L495.6 377.6L494.1 375.0L493.5 373.6L492.9 372.4L491.8 369.9L491.3 368.7L490.8 367.3L490.0 364.7L489.4 362.1L489.2 361.3L488.9 359.6L488.5 357.0L488.3 354.4L488.3 351.9L488.3 349.3L488.5 346.7L488.8 344.1L489.2 341.6L489.2 341.6L489.7 339.0L490.3 336.4L491.0 333.8L491.3 332.8L491.8 331.3L492.7 328.7L493.5 326.6L493.6 326.1L494.6 323.5L495.6 321.4L495.8 321.0L496.9 318.4L497.7 316.8L498.2 315.8L499.5 313.2L499.8 312.7L500.9 310.7L502.0 308.9L502.4 308.1L504.0 305.5L504.1 305.4L505.6 303.0L506.2 302.1L507.4 300.4L508.4 299.0L509.2 297.8L510.5 296.1L511.2 295.2L512.6 293.4L513.2 292.7L514.7 290.8L515.4 290.1L516.9 288.4L517.7 287.5L519.0 286.1L520.1 284.9L521.1 283.9L522.6 282.4L523.2 281.7L525.3 279.8L525.4 279.7L527.5 277.8L528.2 277.2L529.6 275.9L531.2 274.6L531.8 274.2L533.9 272.5L534.4 272.1L536.0 270.8L537.8 269.5L538.1 269.3L540.3 267.7L541.5 266.9L542.4 266.3L544.5 264.9L545.4 264.4L546.6 263.6L548.8 262.3L549.6 261.8L550.9 261.0L553.0 259.9L554.3 259.2L555.2 258.8L557.3 257.7L559.4 256.7L559.5 256.6L561.5 255.7L563.7 254.7L565.2 254.1L565.8 253.8L567.9 252.9L570.0 252.0L571.5 251.5L572.2 251.2L574.3 250.3L576.4 249.4L577.6 248.9L578.6 248.5L580.7 247.5L582.8 246.4L582.9 246.3L584.9 245.2L587.1 243.8L587.2 243.8L589.2 242.3L590.5 241.2L591.3 240.5L593.2 238.6L593.4 238.4L595.5 236.0L595.6 236.0L597.5 233.5L597.7 233.1L599.2 230.9L599.8 229.9L600.7 228.3L602.0 226.1L602.2 225.8L603.5 223.2L604.1 221.9L604.7 220.6L605.9 218.0L606.2 217.4L607.0 215.5L608.2 212.9L608.3 212.5L609.2 210.3L610.3 207.7L610.5 207.4L611.4 205.2L612.4 202.6L612.6 202.2L613.5 200.0L614.6 197.4L614.7 197.2L615.7 194.9L616.8 192.4L616.9 192.3L618.2 189.7L619.0 188.1L619.5 187.2L621.0 184.6L621.1 184.3L622.6 182.0L623.2 181.1L624.5 179.4L625.4 178.4L626.8 176.9L627.5 176.2L629.6 174.4L629.7 174.3L631.7 172.9L633.9 171.7L633.9 171.7Z"/><path fill="#eff5fb" d="M642.4 207.7L644.5 206.9L646.6 206.4L648.8 206.0L650.9 205.9L653.0 206.0L655.1 206.3L657.3 206.9L659.4 207.6L659.8 207.7L661.5 208.5L663.6 209.6L664.8 210.3L665.8 210.9L667.9 212.5L668.4 212.9L670.0 214.3L671.3 215.5L672.2 216.3L673.7 218.0L674.3 218.7L675.9 220.6L676.4 221.3L677.7 223.2L678.5 224.4L679.4 225.8L680.7 227.9L680.9 228.3L682.2 230.9L682.8 232.1L683.4 233.5L684.5 236.0L684.9 237.2L685.4 238.6L686.3 241.2L687.0 243.8L687.0 243.8L687.7 246.3L688.3 248.9L688.8 251.5L689.2 253.3L689.3 254.1L689.7 256.6L690.1 259.2L690.4 261.8L690.7 264.4L691.0 266.9L691.2 269.5L691.3 270.0L691.5 272.1L691.8 274.6L692.1 277.2L692.5 279.8L692.9 282.4L693.4 284.9L693.4 285.1L694.0 287.5L694.7 290.1L695.4 292.7L695.5 293.0L696.4 295.2L697.4 297.8L697.7 298.4L698.6 300.4L699.8 302.7L699.9 303.0L701.4 305.5L701.9 306.3L703.0 308.1L704.1 309.6L704.8 310.7L706.2 312.7L706.6 313.2L708.3 315.6L708.5 315.8L710.4 318.4L710.4 318.4L712.4 321.0L712.6 321.2L714.4 323.5L714.7 323.9L716.4 326.1L716.8 326.7L718.3 328.7L718.9 329.5L720.2 331.3L721.1 332.5L722.1 333.8L723.2 335.5L723.8 336.4L725.3 338.6L725.6 339.0L727.2 341.6L727.5 342.0L728.8 344.1L729.6 345.5L730.3 346.7L731.6 349.3L731.7 349.4L733.0 351.9L733.8 353.6L734.2 354.4L735.4 357.0L736.0 358.3L736.5 359.6L737.5 362.1L738.1 363.7L738.5 364.7L739.3 367.3L740.1 369.9L740.2 370.2L740.9 372.4L741.5 375.0L742.1 377.6L742.3 378.9L742.6 380.2L743.1 382.7L743.4 385.3L743.7 387.9L744.0 390.5L744.1 393.0L744.2 395.6L744.2 398.2L744.2 400.7L744.1 403.3L743.9 405.9L743.6 408.5L743.3 411.0L742.9 413.6L742.4 416.2L742.3 416.2L741.8 418.8L741.2 421.3L740.4 423.9L740.2 424.5L739.6 426.5L738.7 429.1L738.1 430.5L737.6 431.6L736.5 434.2L736.0 435.4L735.3 436.8L733.9 439.3L733.8 439.5L732.5 441.9L731.7 443.1L730.8 444.5L729.6 446.3L729.1 447.1L727.5 449.2L727.1 449.6L725.3 451.8L725.0 452.2L723.2 454.2L722.6 454.8L721.1 456.3L720.0 457.4L718.9 458.3L717.0 459.9L716.8 460.1L714.7 461.7L713.6 462.5L712.6 463.3L710.4 464.6L709.7 465.1L708.3 465.9L706.2 467.0L704.9 467.7L704.1 468.1L701.9 469.0L699.8 469.8L698.6 470.2L697.7 470.6L695.5 471.2L693.4 471.8L691.3 472.2L689.2 472.6L687.7 472.8L687.0 472.9L684.9 473.1L682.8 473.3L680.7 473.3L678.5 473.3L676.4 473.3L674.3 473.1L672.2 472.9L671.5 472.8L670.0 472.6L667.9 472.3L665.8 471.9L663.6 471.4L661.5 470.9L659.4 470.3L659.3 470.2L657.3 469.6L655.1 469.0L653.0 468.2L651.4 467.7L650.9 467.5L648.8 466.7L646.6 465.8L644.8 465.1L644.5 465.0L642.4 464.1L640.2 463.2L638.6 462.5L638.1 462.3L636.0 461.5L633.9 460.6L632.3 459.9L631.7 459.7L629.6 458.9L627.5 458.1L625.6 457.4L625.4 457.3L623.2 456.6L621.1 455.9L619.0 455.3L617.1 454.8L616.8 454.7L614.7 454.2L612.6 453.8L610.5 453.4L608.3 453.1L606.2 452.8L604.1 452.6L602.0 452.4L599.8 452.3L598.6 452.2L597.7 452.2L595.6 452.1L593.4 452.1L591.3 452.0L589.2 452.0L587.1 451.9L584.9 451.8L582.8 451.7L580.7 451.6L578.6 451.4L576.4 451.2L574.3 450.8L572.2 450.4L570.0 449.9L569.0 449.6L567.9 449.3L565.8 448.6L563.7 447.8L562.0 447.1L561.5 446.9L559.4 445.8L557.3 444.5L557.2 444.5L555.2 443.1L553.6 441.9L553.0 441.5L550.9 439.6L550.6 439.3L548.8 437.5L548.1 436.8L546.6 435.1L545.9 434.2L544.5 432.4L543.9 431.6L542.4 429.3L542.2 429.1L540.7 426.5L540.3 425.7L539.3 423.9L538.1 421.5L538.1 421.3L536.9 418.8L536.0 416.5L535.9 416.2L534.9 413.6L534.0 411.0L533.9 410.7L533.1 408.5L532.3 405.9L531.8 404.1L531.5 403.3L530.7 400.7L529.9 398.2L529.6 397.1L529.2 395.6L528.4 393.0L527.5 390.5L527.5 390.3L526.7 387.9L525.8 385.3L525.4 384.2L524.8 382.7L523.9 380.2L523.2 378.6L522.8 377.6L521.8 375.0L521.1 373.4L520.7 372.4L519.6 369.9L519.0 368.3L518.5 367.3L517.5 364.7L516.9 363.1L516.5 362.1L515.5 359.6L514.7 357.3L514.6 357.0L513.8 354.4L513.2 351.9L512.6 349.3L512.6 349.3L512.2 346.7L511.9 344.1L511.7 341.6L511.6 339.0L511.7 336.4L511.9 333.8L512.3 331.3L512.6 329.4L512.7 328.7L513.3 326.1L514.0 323.5L514.7 321.3L514.9 321.0L515.8 318.4L516.9 315.9L516.9 315.8L518.1 313.2L519.0 311.6L519.5 310.7L520.9 308.1L521.1 307.8L522.6 305.5L523.2 304.5L524.4 303.0L525.4 301.6L526.3 300.4L527.5 298.9L528.4 297.8L529.6 296.5L530.8 295.2L531.8 294.2L533.3 292.7L533.9 292.1L536.0 290.2L536.1 290.1L538.1 288.4L539.2 287.5L540.3 286.7L542.4 285.1L542.7 284.9L544.5 283.7L546.6 282.4L546.6 282.3L548.8 281.1L550.9 279.9L551.1 279.8L553.0 278.8L555.2 277.9L556.7 277.2L557.3 277.0L559.4 276.2L561.5 275.4L563.7 274.8L564.2 274.6L565.8 274.2L567.9 273.7L570.0 273.3L572.2 272.9L574.3 272.6L576.4 272.4L578.6 272.2L579.8 272.1L580.7 272.0L582.8 271.8L584.9 271.7L587.1 271.5L589.2 271.2L591.3 270.9L593.4 270.4L595.6 269.8L596.4 269.5L597.7 269.0L599.8 267.9L601.3 266.9L602.0 266.4L604.1 264.5L604.3 264.4L606.2 262.1L606.5 261.8L608.3 259.2L608.3 259.1L609.8 256.6L610.5 255.5L611.2 254.1L612.5 251.5L612.6 251.3L613.7 248.9L614.7 246.7L614.9 246.3L616.0 243.8L616.8 241.8L617.1 241.2L618.2 238.6L619.0 237.0L619.4 236.0L620.6 233.5L621.1 232.4L621.8 230.9L623.1 228.3L623.2 228.2L624.5 225.8L625.4 224.4L626.1 223.2L627.5 221.0L627.8 220.6L629.6 218.1L629.6 218.0L631.7 215.5L631.8 215.5L633.9 213.3L634.4 212.9L636.0 211.5L637.6 210.3L638.1 209.9L640.2 208.7L642.2 207.7Z"/><path fill="#e8f1f9" d="M646.6 228.3L648.8 227.5L650.9 227.0L653.0 226.9L655.1 227.0L657.3 227.4L659.4 228.1L659.8 228.3L661.5 229.2L663.6 230.6L664.0 230.9L665.8 232.4L666.9 233.5L667.9 234.6L669.0 236.0L670.0 237.4L670.8 238.6L672.2 240.9L672.3 241.2L673.6 243.8L674.3 245.5L674.6 246.3L675.5 248.9L676.3 251.5L676.4 251.9L676.9 254.1L677.5 256.6L677.9 259.2L678.3 261.8L678.5 263.2L678.7 264.4L679.0 266.9L679.2 269.5L679.5 272.1L679.7 274.6L680.0 277.2L680.3 279.8L680.7 282.2L680.7 282.4L681.1 284.9L681.6 287.5L682.3 290.1L682.8 291.8L683.1 292.7L684.0 295.2L684.9 297.4L685.1 297.8L686.3 300.4L687.0 301.7L687.8 303.0L689.2 305.2L689.4 305.5L691.2 308.1L691.3 308.3L693.1 310.7L693.4 311.0L695.2 313.2L695.5 313.6L697.4 315.8L697.7 316.1L699.7 318.4L699.8 318.5L701.9 320.9L702.0 321.0L704.1 323.2L704.3 323.5L706.2 325.6L706.7 326.1L708.3 327.9L708.9 328.7L710.4 330.4L711.2 331.3L712.6 332.9L713.3 333.8L714.7 335.5L715.4 336.4L716.8 338.2L717.4 339.0L718.9 341.1L719.3 341.6L721.1 344.1L721.1 344.2L722.8 346.7L723.2 347.4L724.4 349.3L725.3 350.9L725.9 351.9L727.3 354.4L727.5 354.8L728.6 357.0L729.6 359.1L729.8 359.6L731.0 362.1L731.7 364.0L732.0 364.7L733.0 367.3L733.8 369.9L733.8 369.9L734.7 372.4L735.4 375.0L736.0 377.4L736.0 377.6L736.6 380.2L737.1 382.7L737.5 385.3L737.8 387.9L738.0 390.5L738.1 391.1L738.2 393.0L738.3 395.6L738.4 398.2L738.3 400.7L738.2 403.3L738.1 404.3L738.0 405.9L737.7 408.5L737.3 411.0L736.9 413.6L736.3 416.2L736.0 417.6L735.7 418.8L735.0 421.3L734.1 423.9L733.8 424.7L733.2 426.5L732.2 429.1L731.7 430.1L731.0 431.6L729.7 434.2L729.6 434.5L728.3 436.8L727.5 438.2L726.8 439.3L725.3 441.5L725.0 441.9L723.2 444.4L723.1 444.5L721.1 447.0L721.0 447.1L718.9 449.3L718.6 449.6L716.8 451.4L716.0 452.2L714.7 453.4L712.9 454.8L712.6 455.1L710.4 456.7L709.4 457.4L708.3 458.1L706.2 459.4L705.1 459.9L704.1 460.5L701.9 461.6L699.8 462.5L699.7 462.5L697.7 463.3L695.5 464.0L693.4 464.6L691.5 465.1L691.3 465.1L689.2 465.5L687.0 465.9L684.9 466.1L682.8 466.3L680.7 466.3L678.5 466.3L676.4 466.2L674.3 466.1L672.2 465.8L670.0 465.5L667.9 465.1L667.8 465.1L665.8 464.6L663.6 464.1L661.5 463.5L659.4 462.9L658.4 462.5L657.3 462.1L655.1 461.4L653.0 460.5L651.6 459.9L650.9 459.7L648.8 458.7L646.6 457.8L645.7 457.4L644.5 456.8L642.4 455.8L640.4 454.8L640.2 454.7L638.1 453.7L636.0 452.6L635.1 452.2L633.9 451.6L631.7 450.6L629.8 449.6L629.6 449.5L627.5 448.6L625.4 447.6L624.1 447.1L623.2 446.7L621.1 445.8L619.0 445.0L617.4 444.5L616.8 444.3L614.7 443.6L612.6 443.0L610.5 442.4L608.3 441.9L608.3 441.9L606.2 441.5L604.1 441.1L602.0 440.8L599.8 440.5L597.7 440.3L595.6 440.1L593.4 439.9L591.3 439.7L589.2 439.5L587.1 439.3L587.1 439.3L584.9 439.1L582.8 438.9L580.7 438.6L578.6 438.2L576.4 437.7L574.3 437.2L572.9 436.8L572.2 436.5L570.0 435.7L567.9 434.8L566.7 434.2L565.8 433.7L563.7 432.4L562.5 431.6L561.5 430.9L559.4 429.2L559.3 429.1L557.3 427.1L556.7 426.5L555.2 424.7L554.5 423.9L553.0 421.8L552.7 421.3L551.1 418.8L550.9 418.4L549.7 416.2L548.8 414.3L548.5 413.6L547.4 411.0L546.6 409.2L546.4 408.5L545.5 405.9L544.6 403.3L544.5 402.9L543.9 400.7L543.1 398.2L542.4 395.6L542.4 395.6L541.7 393.0L541.0 390.5L540.3 387.9L540.3 387.8L539.6 385.3L538.8 382.7L538.1 380.5L538.0 380.2L537.2 377.6L536.4 375.0L536.0 373.9L535.5 372.4L534.6 369.9L533.9 367.7L533.7 367.3L532.8 364.7L531.9 362.1L531.8 361.8L531.0 359.6L530.1 357.0L529.6 355.4L529.3 354.4L528.6 351.9L527.9 349.3L527.5 347.3L527.4 346.7L526.9 344.1L526.6 341.6L526.4 339.0L526.4 336.4L526.4 333.8L526.7 331.3L527.0 328.7L527.5 326.4L527.6 326.1L528.3 323.5L529.1 321.0L529.6 319.7L530.1 318.4L531.4 315.8L531.8 315.1L532.8 313.2L533.9 311.4L534.4 310.7L536.0 308.4L536.2 308.1L538.1 305.8L538.4 305.5L540.3 303.5L540.8 303.0L542.4 301.5L543.6 300.4L544.5 299.7L546.6 298.0L547.0 297.8L548.8 296.6L550.9 295.3L551.1 295.2L553.0 294.2L555.2 293.2L556.5 292.7L557.3 292.4L559.4 291.7L561.5 291.1L563.7 290.6L565.8 290.3L567.7 290.1L567.9 290.1L570.0 290.0L572.2 290.0L573.4 290.1L574.3 290.1L576.4 290.4L578.6 290.8L580.7 291.2L582.8 291.8L584.9 292.4L585.7 292.7L587.1 293.1L589.2 293.9L591.3 294.7L592.8 295.2L593.4 295.5L595.6 296.3L597.7 297.0L599.8 297.6L600.8 297.8L602.0 298.1L604.1 298.3L606.2 298.3L608.3 298.1L609.1 297.8L610.5 297.4L612.6 296.2L613.8 295.2L614.7 294.5L616.3 292.7L616.8 292.0L618.1 290.1L619.0 288.6L619.5 287.5L620.6 284.9L621.1 283.8L621.6 282.4L622.5 279.8L623.2 277.3L623.2 277.2L623.9 274.6L624.6 272.1L625.2 269.5L625.4 269.1L625.9 266.9L626.5 264.4L627.2 261.8L627.5 260.6L627.8 259.2L628.6 256.6L629.3 254.1L629.6 253.2L630.2 251.5L631.1 248.9L631.7 247.2L632.1 246.3L633.2 243.8L633.9 242.4L634.5 241.2L635.9 238.6L636.0 238.6L637.7 236.0L638.1 235.5L639.8 233.5L640.2 233.0L642.4 231.0L642.5 230.9L644.5 229.5L646.6 228.3Z"/><path fill="#e3edf7" d="M648.8 251.3L650.9 249.7L653.0 249.0L655.1 248.9L657.3 249.6L659.4 251.1L659.8 251.5L661.5 253.5L661.8 254.1L663.2 256.6L663.6 257.6L664.2 259.2L665.0 261.8L665.6 264.4L665.8 265.3L666.0 266.9L666.4 269.5L666.7 272.1L666.9 274.6L667.2 277.2L667.5 279.8L667.9 282.4L667.9 282.5L668.3 284.9L668.8 287.5L669.5 290.1L670.0 291.4L670.4 292.7L671.5 295.2L672.2 296.5L672.8 297.8L674.3 300.3L674.4 300.4L676.1 303.0L676.4 303.3L678.1 305.5L678.5 306.0L680.3 308.1L680.7 308.5L682.7 310.7L682.8 310.8L684.9 312.9L685.2 313.2L687.0 315.0L687.9 315.8L689.2 317.0L690.6 318.4L691.3 319.0L693.4 321.0L693.4 321.0L695.5 322.9L696.2 323.5L697.7 324.9L698.9 326.1L699.8 326.9L701.6 328.7L701.9 329.0L704.1 331.1L704.2 331.3L706.2 333.3L706.7 333.8L708.3 335.6L709.1 336.4L710.4 338.0L711.3 339.0L712.6 340.5L713.4 341.6L714.7 343.1L715.5 344.1L716.8 346.0L717.3 346.7L718.9 349.0L719.1 349.3L720.8 351.9L721.1 352.3L722.3 354.4L723.2 356.0L723.8 357.0L725.1 359.6L725.3 360.0L726.4 362.1L727.5 364.6L727.5 364.7L728.6 367.3L729.5 369.9L729.6 370.1L730.4 372.4L731.2 375.0L731.7 377.1L731.8 377.6L732.5 380.2L733.0 382.7L733.4 385.3L733.8 387.9L733.8 388.6L734.0 390.5L734.2 393.0L734.3 395.6L734.4 398.2L734.3 400.7L734.2 403.3L733.9 405.9L733.8 406.8L733.6 408.5L733.2 411.0L732.8 413.6L732.2 416.2L731.7 417.9L731.5 418.8L730.7 421.3L729.8 423.9L729.6 424.4L728.8 426.5L727.6 429.1L727.5 429.4L726.4 431.6L725.3 433.5L725.0 434.2L723.4 436.8L723.2 437.0L721.6 439.3L721.1 440.1L719.7 441.9L718.9 442.8L717.5 444.5L716.8 445.2L715.0 447.1L714.7 447.4L712.6 449.3L712.2 449.6L710.4 451.1L708.9 452.2L708.3 452.6L706.2 454.0L704.9 454.8L704.1 455.3L701.9 456.4L700.0 457.4L699.8 457.4L697.7 458.3L695.5 459.1L693.4 459.7L692.6 459.9L691.3 460.3L689.2 460.7L687.0 461.1L684.9 461.3L682.8 461.5L680.7 461.6L678.5 461.6L676.4 461.5L674.3 461.3L672.2 461.0L670.0 460.6L667.9 460.2L666.8 459.9L665.8 459.7L663.6 459.1L661.5 458.5L659.4 457.7L658.4 457.4L657.3 457.0L655.1 456.1L653.0 455.2L652.1 454.8L650.9 454.2L648.8 453.2L646.8 452.2L646.6 452.1L644.5 451.0L642.4 449.9L641.9 449.6L640.2 448.7L638.1 447.5L637.3 447.1L636.0 446.3L633.9 445.1L632.7 444.5L631.7 443.9L629.6 442.8L628.1 441.9L627.5 441.6L625.4 440.5L623.2 439.4L623.1 439.3L621.1 438.3L619.0 437.4L617.6 436.8L616.8 436.4L614.7 435.6L612.6 434.8L610.9 434.2L610.5 434.0L608.3 433.4L606.2 432.8L604.1 432.2L602.0 431.8L601.3 431.6L599.8 431.3L597.7 430.9L595.6 430.6L593.4 430.2L591.3 429.9L589.2 429.5L587.1 429.2L586.4 429.1L584.9 428.8L582.8 428.3L580.7 427.8L578.6 427.2L576.6 426.5L576.4 426.4L574.3 425.6L572.2 424.5L571.1 423.9L570.0 423.3L567.9 421.8L567.3 421.3L565.8 420.1L564.4 418.8L563.7 417.9L562.2 416.2L561.5 415.4L560.3 413.6L559.4 412.3L558.7 411.0L557.3 408.5L557.3 408.4L556.1 405.9L555.2 403.5L555.1 403.3L554.1 400.7L553.3 398.2L553.0 397.3L552.5 395.6L551.8 393.0L551.1 390.5L550.9 389.8L550.4 387.9L549.7 385.3L549.0 382.7L548.8 381.8L548.3 380.2L547.6 377.6L546.9 375.0L546.6 374.1L546.1 372.4L545.4 369.9L544.6 367.3L544.5 367.2L543.7 364.7L542.9 362.1L542.4 360.6L542.1 359.6L541.3 357.0L540.5 354.4L540.3 353.6L539.8 351.9L539.1 349.3L538.6 346.7L538.1 344.3L538.1 344.1L537.8 341.6L537.6 339.0L537.5 336.4L537.6 333.8L537.9 331.3L538.1 329.8L538.4 328.7L539.0 326.1L539.9 323.5L540.3 322.7L541.0 321.0L542.4 318.4L542.4 318.4L544.1 315.8L544.5 315.3L546.2 313.2L546.6 312.8L548.8 310.7L548.8 310.7L550.9 309.0L552.2 308.1L553.0 307.6L555.2 306.4L557.0 305.5L557.3 305.4L559.4 304.7L561.5 304.1L563.7 303.7L565.8 303.5L567.9 303.5L570.0 303.7L572.2 304.1L574.3 304.6L576.4 305.3L577.1 305.5L578.6 306.1L580.7 307.2L582.4 308.1L582.8 308.3L584.9 309.6L586.5 310.7L587.1 311.1L589.2 312.6L590.1 313.2L591.3 314.2L593.4 315.7L593.6 315.8L595.6 317.3L597.2 318.4L597.7 318.7L599.8 320.1L601.5 321.0L602.0 321.2L604.1 322.2L606.2 322.9L608.3 323.4L610.1 323.5L610.5 323.6L611.4 323.5L612.6 323.5L614.7 323.1L616.8 322.5L619.0 321.5L619.9 321.0L621.1 320.2L623.2 318.6L623.5 318.4L625.4 316.6L626.1 315.8L627.5 314.3L628.3 313.2L629.6 311.5L630.2 310.7L631.7 308.3L631.8 308.1L633.3 305.5L633.9 304.3L634.5 303.0L635.6 300.4L636.0 299.3L636.6 297.8L637.4 295.2L638.0 292.7L638.1 292.3L638.6 290.1L639.1 287.5L639.5 284.9L639.9 282.4L640.2 279.8L640.2 279.1L640.5 277.2L640.8 274.6L641.1 272.1L641.5 269.5L641.9 266.9L642.4 264.7L642.5 264.4L643.2 261.8L644.0 259.2L644.5 257.9L645.1 256.6L646.5 254.1L646.6 253.8L648.5 251.5Z"/><path fill="#dae9f4" d="M653.0 310.0L655.1 309.2L657.3 308.7L659.4 308.7L661.5 308.9L663.6 309.5L665.8 310.2L666.7 310.7L667.9 311.2L670.0 312.2L671.8 313.2L672.2 313.4L674.3 314.6L676.2 315.8L676.4 316.0L678.5 317.3L680.2 318.4L680.7 318.7L682.8 320.1L684.0 321.0L684.9 321.6L687.0 323.1L687.6 323.5L689.2 324.6L691.1 326.1L691.3 326.2L693.4 327.9L694.4 328.7L695.5 329.6L697.5 331.3L697.7 331.4L699.8 333.2L700.5 333.8L701.9 335.2L703.2 336.4L704.1 337.2L705.8 339.0L706.2 339.4L708.2 341.6L708.3 341.6L710.4 344.1L710.5 344.1L712.6 346.6L712.6 346.7L714.6 349.3L714.7 349.4L716.4 351.9L716.8 352.4L718.1 354.4L718.9 355.8L719.7 357.0L721.1 359.4L721.2 359.6L722.5 362.1L723.2 363.6L723.7 364.7L724.9 367.3L725.3 368.5L725.9 369.9L726.8 372.4L727.5 374.4L727.6 375.0L728.4 377.6L729.0 380.2L729.6 382.7L729.6 382.7L730.1 385.3L730.4 387.9L730.7 390.5L730.9 393.0L731.1 395.6L731.1 398.2L731.0 400.7L730.9 403.3L730.6 405.9L730.3 408.5L729.9 411.0L729.6 412.4L729.3 413.6L728.7 416.2L728.0 418.8L727.5 420.4L727.1 421.3L726.2 423.9L725.3 425.9L725.1 426.5L723.8 429.1L723.2 430.2L722.4 431.6L721.1 433.9L720.9 434.2L719.1 436.8L718.9 437.0L717.2 439.3L716.8 439.8L715.0 441.9L714.7 442.2L712.6 444.4L712.4 444.5L710.4 446.3L709.5 447.1L708.3 448.0L706.2 449.6L706.1 449.6L704.1 450.9L701.9 452.2L701.8 452.2L699.8 453.2L697.7 454.2L696.1 454.8L695.5 455.0L693.4 455.7L691.3 456.3L689.2 456.8L687.0 457.1L685.2 457.4L684.9 457.4L682.8 457.6L680.7 457.6L678.5 457.6L676.4 457.5L675.0 457.4L674.3 457.3L672.2 457.0L670.0 456.6L667.9 456.2L665.8 455.6L663.6 455.0L663.1 454.8L661.5 454.3L659.4 453.5L657.3 452.6L656.3 452.2L655.1 451.7L653.0 450.7L650.9 449.6L650.9 449.6L648.8 448.5L646.6 447.3L646.1 447.1L644.5 446.1L642.4 444.9L641.8 444.5L640.2 443.6L638.1 442.2L637.6 441.9L636.0 440.9L633.9 439.5L633.6 439.3L631.7 438.1L629.6 436.8L629.6 436.8L627.5 435.4L625.5 434.2L625.4 434.1L623.2 432.8L621.2 431.6L621.1 431.5L619.0 430.3L616.8 429.2L616.6 429.1L614.7 428.1L612.6 427.1L611.2 426.5L610.5 426.1L608.3 425.2L606.2 424.4L604.7 423.9L604.1 423.7L602.0 423.0L599.8 422.3L597.7 421.7L596.3 421.3L595.6 421.1L593.4 420.6L591.3 420.0L589.2 419.4L587.1 418.8L587.0 418.8L584.9 418.1L582.8 417.3L580.7 416.4L580.3 416.2L578.6 415.3L576.4 414.0L575.8 413.6L574.3 412.5L572.6 411.0L572.2 410.7L570.1 408.5L570.0 408.4L568.1 405.9L567.9 405.6L566.5 403.3L565.8 402.0L565.2 400.7L564.0 398.2L563.7 397.3L563.0 395.6L562.1 393.0L561.5 391.2L561.3 390.5L560.6 387.9L559.9 385.3L559.4 383.4L559.3 382.7L558.6 380.2L558.0 377.6L557.3 375.0L557.3 374.8L556.7 372.4L556.0 369.9L555.4 367.3L555.2 366.6L554.7 364.7L554.0 362.1L553.2 359.6L553.0 358.9L552.5 357.0L551.8 354.4L551.2 351.9L550.9 350.6L550.6 349.3L550.1 346.7L549.8 344.1L549.5 341.6L549.5 339.0L549.6 336.4L550.0 333.8L550.6 331.3L550.9 330.4L551.6 328.7L552.9 326.1L553.0 326.0L554.9 323.5L555.2 323.3L557.3 321.5L558.1 321.0L559.4 320.2L561.5 319.3L563.7 318.8L565.8 318.6L567.9 318.7L570.0 319.1L572.2 319.8L574.3 320.7L574.8 321.0L576.4 321.9L578.6 323.2L579.0 323.5L580.7 324.8L582.3 326.1L582.8 326.5L584.9 328.3L585.3 328.7L587.1 330.2L588.3 331.3L589.2 332.0L591.3 333.7L591.4 333.8L593.4 335.4L595.0 336.4L595.6 336.8L597.7 338.1L599.5 339.0L599.8 339.1L602.0 340.0L604.1 340.6L606.2 341.0L608.3 341.2L610.5 341.2L612.6 340.9L614.7 340.5L616.8 339.8L618.9 339.0L619.0 338.9L621.1 337.8L623.2 336.6L623.5 336.4L625.4 335.1L627.0 333.8L627.5 333.5L629.6 331.7L630.1 331.3L631.7 329.7L632.8 328.7L633.9 327.6L635.4 326.1L636.0 325.5L637.9 323.5L638.1 323.3L640.2 321.0L640.3 321.0L642.4 318.8L642.8 318.4L644.5 316.6L645.4 315.8L646.6 314.6L648.2 313.2L648.8 312.8L650.9 311.2L651.9 310.7Z"/><path fill="#cde4f0" d="M661.5 323.3L663.6 323.1L665.8 323.0L667.9 323.2L670.0 323.5L670.2 323.5L672.2 324.0L674.3 324.5L676.4 325.2L678.5 326.1L678.6 326.1L680.7 327.0L682.8 328.0L684.0 328.7L684.9 329.1L687.0 330.3L688.6 331.3L689.2 331.6L691.3 333.0L692.5 333.8L693.4 334.5L695.5 336.0L696.0 336.4L697.7 337.7L699.2 339.0L699.8 339.5L701.9 341.3L702.2 341.6L704.1 343.4L704.8 344.1L706.2 345.5L707.3 346.7L708.3 347.9L709.5 349.3L710.4 350.4L711.6 351.9L712.6 353.1L713.5 354.4L714.7 356.2L715.2 357.0L716.8 359.5L716.9 359.6L718.3 362.1L718.9 363.3L719.7 364.7L720.9 367.3L721.1 367.6L722.0 369.9L723.0 372.4L723.2 372.9L723.9 375.0L724.7 377.6L725.3 379.8L725.4 380.2L726.0 382.7L726.5 385.3L727.0 387.9L727.3 390.5L727.5 392.8L727.5 393.0L727.6 395.6L727.6 398.2L727.6 400.7L727.5 402.6L727.4 403.3L727.2 405.9L726.8 408.5L726.3 411.0L725.8 413.6L725.3 415.3L725.1 416.2L724.3 418.8L723.4 421.3L723.2 421.7L722.3 423.9L721.1 426.5L721.1 426.5L719.7 429.1L718.9 430.4L718.2 431.6L716.8 433.7L716.5 434.2L714.7 436.5L714.5 436.8L712.6 439.0L712.2 439.3L710.4 441.1L709.6 441.9L708.3 443.1L706.5 444.5L706.2 444.8L704.1 446.3L702.8 447.1L701.9 447.6L699.8 448.8L698.0 449.6L697.7 449.8L695.5 450.7L693.4 451.5L691.3 452.1L690.7 452.2L689.2 452.6L687.0 453.0L684.9 453.3L682.8 453.5L680.7 453.5L678.5 453.5L676.4 453.4L674.3 453.1L672.2 452.8L670.0 452.4L669.2 452.2L667.9 451.9L665.8 451.3L663.6 450.6L661.5 449.8L661.0 449.6L659.4 449.0L657.3 448.0L655.3 447.1L655.1 447.0L653.0 445.9L650.9 444.7L650.5 444.5L648.8 443.5L646.6 442.2L646.2 441.9L644.5 440.8L642.4 439.3L642.4 439.3L640.2 437.9L638.7 436.8L638.1 436.3L636.0 434.7L635.2 434.2L633.9 433.1L631.9 431.6L631.7 431.5L629.6 429.9L628.5 429.1L627.5 428.2L625.4 426.6L625.2 426.5L623.2 424.9L621.8 423.9L621.1 423.3L619.0 421.7L618.4 421.3L616.8 420.2L614.8 418.8L614.7 418.7L612.6 417.2L610.9 416.2L610.5 415.8L608.3 414.5L606.8 413.6L606.2 413.2L604.1 412.0L602.4 411.0L602.0 410.8L599.8 409.6L597.7 408.5L597.6 408.5L595.6 407.3L593.4 406.1L593.0 405.9L591.3 404.9L589.2 403.5L588.9 403.3L587.1 401.9L585.6 400.7L584.9 400.1L583.0 398.2L582.8 398.0L581.0 395.6L580.7 395.2L579.4 393.0L578.6 391.4L578.1 390.5L577.2 387.9L576.4 385.5L576.4 385.3L575.8 382.7L575.3 380.2L575.0 377.6L574.8 375.0L574.7 372.4L574.8 369.9L575.1 367.3L575.6 364.7L576.4 362.5L576.6 362.1L578.6 359.9L579.2 359.6L580.7 359.0L582.8 358.7L584.9 358.7L587.1 358.9L589.2 359.2L591.3 359.5L591.7 359.6L593.4 359.8L595.6 360.0L597.7 360.1L599.8 360.1L602.0 360.0L604.1 359.8L605.4 359.6L606.2 359.4L608.3 358.9L610.5 358.3L612.6 357.5L613.7 357.0L614.7 356.6L616.8 355.5L618.7 354.4L619.0 354.3L621.1 352.9L622.6 351.9L623.2 351.4L625.4 349.8L626.0 349.3L627.5 348.1L629.1 346.7L629.6 346.3L631.7 344.4L632.0 344.1L633.9 342.4L634.8 341.6L636.0 340.4L637.5 339.0L638.1 338.4L640.2 336.4L640.3 336.4L642.4 334.5L643.1 333.8L644.5 332.6L646.1 331.3L646.6 330.8L648.8 329.2L649.4 328.7L650.9 327.7L653.0 326.4L653.6 326.1L655.1 325.3L657.3 324.4L659.4 323.8L660.5 323.5Z"/><path fill="#b3d5ea" d="M665.8 336.1L667.9 335.8L670.0 335.7L672.2 335.7L674.3 335.8L676.4 336.1L677.7 336.4L678.5 336.6L680.7 337.1L682.8 337.8L684.9 338.7L685.6 339.0L687.0 339.6L689.2 340.7L690.6 341.6L691.3 341.9L693.4 343.3L694.7 344.1L695.5 344.7L697.7 346.3L698.1 346.7L699.8 348.1L701.1 349.3L701.9 350.0L703.8 351.9L704.1 352.1L706.2 354.4L706.2 354.4L708.3 357.0L708.3 357.0L710.2 359.6L710.4 359.8L712.0 362.1L712.6 363.0L713.6 364.7L714.7 366.7L715.0 367.3L716.3 369.9L716.8 371.0L717.5 372.4L718.5 375.0L718.9 376.3L719.4 377.6L720.2 380.2L720.8 382.7L721.1 383.8L721.4 385.3L721.9 387.9L722.2 390.5L722.5 393.0L722.6 395.6L722.6 398.2L722.6 400.7L722.4 403.3L722.1 405.9L721.7 408.5L721.2 411.0L721.1 411.4L720.5 413.6L719.8 416.2L718.9 418.5L718.8 418.8L717.8 421.3L716.8 423.4L716.6 423.9L715.1 426.5L714.7 427.2L713.5 429.1L712.6 430.4L711.7 431.6L710.4 433.1L709.5 434.2L708.3 435.5L707.0 436.8L706.2 437.5L704.1 439.3L704.0 439.3L701.9 440.8L700.2 441.9L699.8 442.2L697.7 443.4L695.5 444.4L695.3 444.5L693.4 445.2L691.3 445.9L689.2 446.5L687.0 446.9L686.2 447.1L684.9 447.3L682.8 447.5L680.7 447.5L678.5 447.5L676.4 447.3L674.3 447.1L674.2 447.1L672.2 446.7L670.0 446.2L667.9 445.7L665.8 445.0L664.5 444.5L663.6 444.2L661.5 443.3L659.4 442.3L658.7 441.9L657.3 441.2L655.1 440.0L654.1 439.3L653.0 438.7L650.9 437.3L650.2 436.8L648.8 435.8L646.7 434.2L646.6 434.2L644.5 432.4L643.5 431.6L642.4 430.6L640.6 429.1L640.2 428.7L638.1 426.7L637.9 426.5L636.0 424.6L635.3 423.9L633.9 422.4L632.9 421.3L631.7 420.0L630.6 418.8L629.6 417.5L628.5 416.2L627.5 414.9L626.4 413.6L625.4 412.1L624.6 411.0L623.2 409.0L622.9 408.5L621.3 405.9L621.1 405.4L619.9 403.3L619.0 401.1L618.8 400.7L617.9 398.2L617.2 395.6L616.8 393.1L616.8 393.0L616.7 390.5L616.8 389.1L616.9 387.9L617.4 385.3L618.3 382.7L619.0 381.1L619.4 380.2L620.7 377.6L621.1 377.0L622.3 375.0L623.2 373.7L624.1 372.4L625.4 370.7L626.0 369.9L627.5 367.9L628.0 367.3L629.6 365.3L630.1 364.7L631.7 362.8L632.2 362.1L633.9 360.3L634.5 359.6L636.0 357.9L636.7 357.0L638.1 355.5L639.1 354.4L640.2 353.2L641.6 351.9L642.4 351.0L644.2 349.3L644.5 348.9L646.6 347.0L646.9 346.7L648.8 345.1L649.9 344.1L650.9 343.4L653.0 341.8L653.4 341.6L655.1 340.4L657.3 339.2L657.7 339.0L659.4 338.2L661.5 337.3L663.6 336.6L664.6 336.4Z"/><path fill="#98c0de" d="M670.0 351.8L672.2 351.3L674.3 351.1L676.4 351.1L678.5 351.2L680.7 351.5L682.5 351.9L682.8 351.9L684.9 352.5L687.0 353.3L689.2 354.3L689.4 354.4L691.3 355.4L693.4 356.8L693.8 357.0L695.5 358.3L697.1 359.6L697.7 360.0L699.8 362.0L699.9 362.1L701.9 364.3L702.3 364.7L704.1 366.9L704.3 367.3L706.1 369.9L706.2 370.0L707.7 372.4L708.3 373.6L709.0 375.0L710.2 377.6L710.4 378.1L711.2 380.2L712.1 382.7L712.6 384.5L712.8 385.3L713.4 387.9L713.8 390.5L714.1 393.0L714.3 395.6L714.3 398.2L714.2 400.7L714.0 403.3L713.7 405.9L713.1 408.5L712.6 410.7L712.5 411.0L711.6 413.6L710.6 416.2L710.4 416.6L709.4 418.8L708.3 420.8L708.0 421.3L706.3 423.9L706.2 424.0L704.2 426.5L704.1 426.7L701.9 428.9L701.7 429.1L699.8 430.7L698.6 431.6L697.7 432.3L695.5 433.6L694.4 434.2L693.4 434.7L691.3 435.6L689.2 436.3L687.5 436.8L687.0 436.9L684.9 437.3L682.8 437.5L680.7 437.6L678.5 437.5L676.4 437.3L674.3 437.0L673.3 436.8L672.2 436.5L670.0 435.9L667.9 435.1L665.8 434.2L665.7 434.2L663.6 433.1L661.5 431.9L661.0 431.6L659.4 430.6L657.3 429.1L657.3 429.1L655.1 427.3L654.2 426.5L653.0 425.4L651.5 423.9L650.9 423.3L649.1 421.3L648.8 420.9L647.1 418.8L646.6 418.1L645.3 416.2L644.5 415.0L643.7 413.6L642.4 411.2L642.3 411.0L641.1 408.5L640.2 406.1L640.1 405.9L639.4 403.3L638.8 400.7L638.4 398.2L638.2 395.6L638.2 393.0L638.4 390.5L638.8 387.9L639.4 385.3L640.2 382.7L640.2 382.6L641.1 380.2L642.3 377.6L642.4 377.4L643.6 375.0L644.5 373.4L645.1 372.4L646.6 370.1L646.8 369.9L648.6 367.3L648.8 367.1L650.7 364.7L650.9 364.5L653.0 362.2L653.1 362.1L655.1 360.2L655.8 359.6L657.3 358.3L659.0 357.0L659.4 356.7L661.5 355.3L663.1 354.4L663.6 354.1L665.8 353.1L667.9 352.4L669.7 351.9Z"/><path fill="#84a5ca" d="M676.4 367.1L678.5 367.0L680.7 367.1L682.1 367.3L682.8 367.4L684.9 368.0L687.0 368.8L689.2 369.9L689.2 369.9L691.3 371.3L692.8 372.4L693.4 373.0L695.5 375.0L695.5 375.1L697.6 377.6L697.7 377.7L699.2 380.2L699.8 381.2L700.6 382.7L701.7 385.3L701.9 386.0L702.6 387.9L703.2 390.5L703.6 393.0L703.9 395.6L704.0 398.2L703.8 400.7L703.5 403.3L702.9 405.9L702.2 408.5L701.9 409.1L701.1 411.0L699.8 413.6L699.8 413.6L698.0 416.2L697.7 416.6L695.8 418.8L695.5 419.0L693.4 420.8L692.7 421.3L691.3 422.2L689.2 423.3L687.7 423.9L687.0 424.2L684.9 424.7L682.8 425.0L680.7 425.1L678.5 425.0L676.4 424.7L674.3 424.2L673.4 423.9L672.2 423.4L670.0 422.5L668.0 421.3L667.9 421.2L665.8 419.7L664.6 418.8L663.6 417.9L662.0 416.2L661.5 415.7L659.9 413.6L659.4 412.9L658.2 411.0L657.3 409.2L656.9 408.5L655.8 405.9L655.1 403.6L655.1 403.3L654.5 400.7L654.2 398.2L654.2 395.6L654.3 393.0L654.7 390.5L655.1 388.5L655.3 387.9L656.1 385.3L657.2 382.7L657.3 382.6L658.6 380.2L659.4 378.9L660.3 377.6L661.5 376.0L662.3 375.0L663.6 373.7L665.0 372.4L665.8 371.8L667.9 370.3L668.6 369.9L670.0 369.1L672.2 368.2L674.3 367.5L675.6 367.3Z"/></g>
<g fill="#ff0000"><circle cx="100.0" cy="366.2" r="7.2"/><circle cx="160.5" cy="347.5" r="7.2"/><circle cx="161.0" cy="350.0" r="7.2"/><circle cx="192.5" cy="351.2" r="7.2"/><circle cx="140.8" cy="374.6" r="7.2"/><circle cx="120.8" cy="383.2" r="7.2"/><circle cx="158.8" cy="377.4" r="7.2"/><circle cx="176.2" cy="382.4" r="7.2"/><circle cx="207.5" cy="375.6" r="7.2"/><circle cx="199.5" cy="386.2" r="7.2"/><circle cx="166.8" cy="388.0" r="7.2"/><circle cx="224.2" cy="396.5" r="7.2"/><circle cx="225.0" cy="410.5" r="7.2"/><circle cx="101.2" cy="401.2" r="7.2"/><circle cx="93.8" cy="407.0" r="7.2"/><circle cx="107.5" cy="410.0" r="7.2"/><circle cx="92.5" cy="419.5" r="7.2"/><circle cx="130.0" cy="407.5" r="7.2"/><circle cx="120.0" cy="413.8" r="7.2"/><circle cx="120.8" cy="423.8" r="7.2"/><circle cx="156.2" cy="409.2" r="7.2"/><circle cx="145.2" cy="418.0" r="7.2"/><circle cx="151.5" cy="423.5" r="7.2"/><circle cx="147.0" cy="434.5" r="7.2"/><circle cx="157.0" cy="430.6" r="7.2"/><circle cx="170.0" cy="398.8" r="7.2"/><circle cx="176.2" cy="405.0" r="7.2"/><circle cx="180.0" cy="415.0" r="7.2"/><circle cx="169.5" cy="417.0" r="7.2"/><circle cx="167.5" cy="410.0" r="7.2"/><circle cx="251.8" cy="322.5" r="7.2"/><circle cx="249.2" cy="335.5" r="7.2"/><circle cx="272.0" cy="337.0" r="7.2"/><circle cx="245.0" cy="356.8" r="7.2"/><circle cx="279.5" cy="357.5" r="7.2"/><circle cx="322.5" cy="397.0" r="7.2"/><circle cx="356.2" cy="381.2" r="7.2"/><circle cx="355.5" cy="408.2" r="7.2"/><circle cx="267.0" cy="426.2" r="7.2"/><circle cx="271.2" cy="423.8" r="7.2"/><circle cx="159.0" cy="267.0" r="7.2"/><circle cx="313.0" cy="154.0" r="7.2"/></g>
<g fill="#0000ff"><circle cx="609.2" cy="160.0" r="7.2"/><circle cx="666.5" cy="147.8" r="7.2"/><circle cx="640.5" cy="230.0" r="7.2"/><circle cx="657.0" cy="237.5" r="7.2"/><circle cx="583.0" cy="268.8" r="7.2"/><circle cx="660.0" cy="273.0" r="7.2"/><circle cx="662.0" cy="276.0" r="7.2"/><circle cx="637.0" cy="302.0" r="7.2"/><circle cx="564.2" cy="311.2" r="7.2"/><circle cx="570.0" cy="312.0" r="7.2"/><circle cx="555.0" cy="333.8" r="7.2"/><circle cx="548.2" cy="337.5" r="7.2"/><circle cx="639.2" cy="332.5" r="7.2"/><circle cx="680.8" cy="339.5" r="7.2"/><circle cx="672.0" cy="345.0" r="7.2"/><circle cx="679.5" cy="357.5" r="7.2"/><circle cx="589.5" cy="355.5" r="7.2"/><circle cx="595.0" cy="375.0" r="7.2"/><circle cx="569.5" cy="390.0" r="7.2"/><circle cx="568.8" cy="406.0" r="7.2"/><circle cx="620.8" cy="391.2" r="7.2"/><circle cx="623.8" cy="400.3" r="7.2"/><circle cx="639.5" cy="391.0" r="7.2"/><circle cx="687.0" cy="378.5" r="7.2"/><circle cx="702.0" cy="378.0" r="7.2"/><circle cx="525.5" cy="326.2" r="7.2"/><circle cx="485.0" cy="359.2" r="7.2"/><circle cx="556.2" cy="420.8" r="7.2"/><circle cx="571.8" cy="435.0" r="7.2"/><circle cx="470.0" cy="433.0" r="7.2"/><circle cx="620.5" cy="422.0" r="7.2"/><circle cx="673.9" cy="397.0" r="7.2"/><circle cx="688.0" cy="392.5" r="7.2"/><circle cx="694.8" cy="391.3" r="7.2"/><circle cx="700.0" cy="402.6" r="7.2"/><circle cx="690.2" cy="403.8" r="7.2"/><circle cx="676.5" cy="412.6" r="7.2"/><circle cx="685.0" cy="414.2" r="7.2"/><circle cx="667.6" cy="422.6" r="7.2"/><circle cx="677.0" cy="423.6" r="7.2"/></g>
<g stroke="#000" stroke-width="1.7" fill="none"><path d="M53.2 516.85H714.9"/><path d="M384.1 58.7V517.7"/><path d="M54.1 517V523.7"/><path d="M219.1 517V523.7"/><path d="M384.1 517V523.7"/><path d="M549.1 517V523.7"/><path d="M714.1 517V523.7"/><path d="M377.2 425.35H384"/><path d="M377.2 333.85H384"/><path d="M377.2 242.35H384"/><path d="M377.2 150.85H384"/><path d="M377.2 59.35H384"/></g>
<g opacity="0.999">
<g font-family="'Liberation Serif', serif" font-size="26" fill="#000" text-rendering="geometricPrecision"><text x="38.4" y="549.6" textLength="31.6" lengthAdjust="spacingAndGlyphs">0.0</text><text x="203.4" y="549.6" textLength="31.6" lengthAdjust="spacingAndGlyphs">0.5</text><text x="368.4" y="549.6" textLength="31.6" lengthAdjust="spacingAndGlyphs">1.0</text><text x="533.4" y="549.6" textLength="31.6" lengthAdjust="spacingAndGlyphs">0.5</text><text x="698.4" y="549.6" textLength="31.6" lengthAdjust="spacingAndGlyphs">0.0</text></g><g font-family="'Liberation Serif', serif" font-size="22" fill="#000" text-rendering="geometricPrecision"><text x="343.4" y="432.75" textLength="26.6" lengthAdjust="spacingAndGlyphs">0.2</text><text x="343.4" y="341.25" textLength="26.6" lengthAdjust="spacingAndGlyphs">0.4</text><text x="343.4" y="249.75" textLength="26.6" lengthAdjust="spacingAndGlyphs">0.6</text><text x="343.4" y="158.25" textLength="26.6" lengthAdjust="spacingAndGlyphs">0.8</text><text x="343.4" y="66.75" textLength="26.6" lengthAdjust="spacingAndGlyphs">1.0</text></g>
<rect x="70.6" y="59.4" width="157.6" height="45.4" rx="4" fill="#fff" fill-opacity="0.8" stroke="#d0d0d0" stroke-width="1.6"/>
<circle cx="105.8" cy="82" r="7.2" fill="#ff0000"/>
<text x="134" y="88.5" font-family="'Liberation Serif', serif" font-style="italic" font-size="24" textLength="85" lengthAdjust="spacingAndGlyphs" text-rendering="geometricPrecision">r/soccer</text>
<rect x="400.6" y="59.4" width="253" height="45.4" rx="4" fill="#fff" fill-opacity="0.8" stroke="#d0d0d0" stroke-width="1.6"/>
<circle cx="435.8" cy="82" r="7.2" fill="#0000ff"/>
<text x="463.5" y="88.5" font-family="'Liberation Serif', serif" font-style="italic" font-size="24" textLength="181" lengthAdjust="spacingAndGlyphs" text-rendering="geometricPrecision">r/leagueoflegends</text>
<g font-family="'Liberation Serif', serif" font-weight="bold" font-size="25" text-rendering="geometricPrecision"><text x="163.9" y="579.3" textLength="66" lengthAdjust="spacingAndGlyphs">Topic</text><text x="241.4" y="579.3" textLength="125" lengthAdjust="spacingAndGlyphs">homophily</text><text x="379.4" y="579.3" textLength="23.4" lengthAdjust="spacingAndGlyphs">to</text><text x="412.4" y="579.3" textLength="64.4" lengthAdjust="spacingAndGlyphs">home</text><text x="488.2" y="579.3" textLength="115.2" lengthAdjust="spacingAndGlyphs">subreddit</text></g>
<g transform="translate(37.7 0) rotate(-90)" font-family="'Liberation Serif', serif" font-weight="bold" font-size="25" text-rendering="geometricPrecision"><text x="-476.5" y="0" textLength="130" lengthAdjust="spacingAndGlyphs">Behavioral</text><text x="-336" y="0" textLength="128" lengthAdjust="spacingAndGlyphs">homophily</text><text x="-197.6" y="0" textLength="56.4" lengthAdjust="spacingAndGlyphs">from</text><text x="-129.6" y="0" textLength="102" lengthAdjust="spacingAndGlyphs" font-style="italic">r/soccer</text></g>
</g></svg></body></html>
